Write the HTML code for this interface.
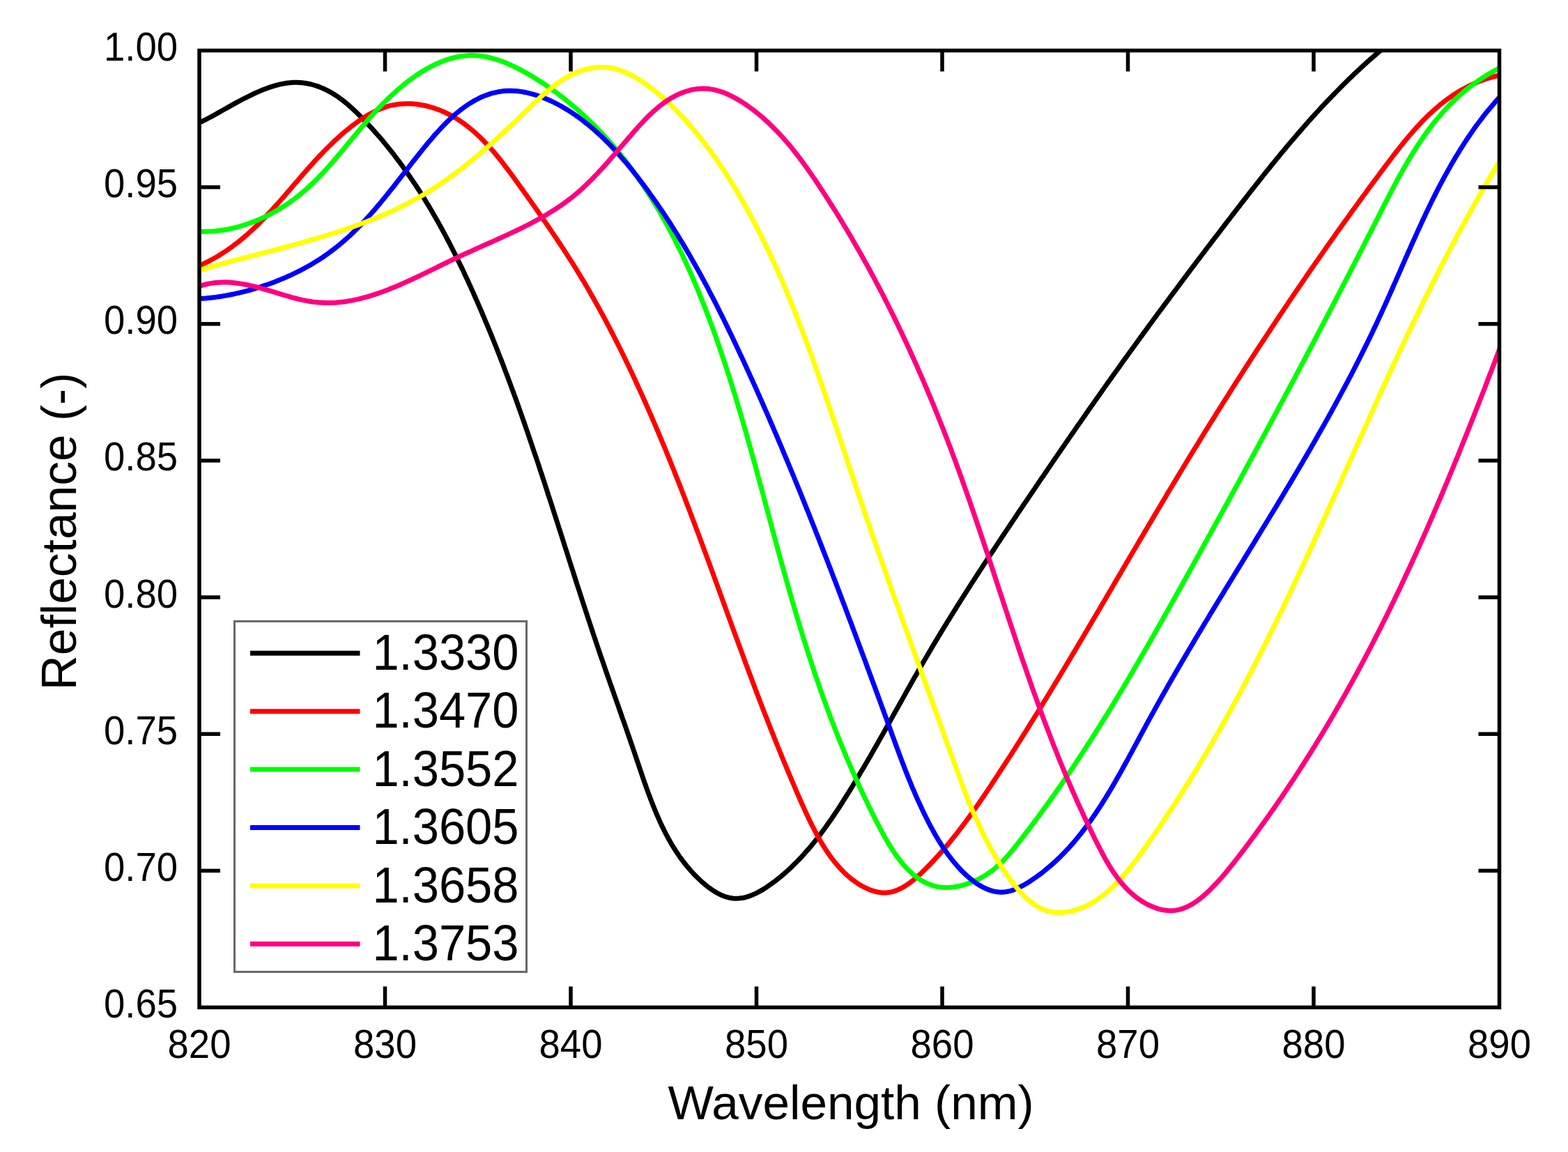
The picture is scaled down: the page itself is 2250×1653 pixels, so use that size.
<!DOCTYPE html>
<html><head><meta charset="utf-8"><title>Reflectance vs Wavelength</title>
<style>html,body{margin:0;padding:0;background:#fff;overflow:hidden}svg{display:block}</style>
</head><body>
<svg width="2250" height="1653" viewBox="0 0 2250 1653">
<rect x="0" y="0" width="2250" height="1653" fill="#fff"/>
<defs><clipPath id="pc"><rect x="286.0" y="72.5" width="1865.5" height="1373.0"/></clipPath></defs>
<g clip-path="url(#pc)" fill="none" stroke-width="7" stroke-linejoin="round" stroke-linecap="round">
<path stroke="#000000" d="M288.1,175.1 L292.1,173.1 L296.1,171.1 L300.2,169.0 L304.3,166.8 L308.5,164.5 L312.7,162.1 L316.9,159.7 L321.3,157.3 L325.6,154.9 L330.0,152.4 L334.5,149.9 L339.0,147.4 L343.5,145.0 L348.1,142.5 L352.8,140.1 L357.5,137.8 L362.2,135.5 L367.0,133.2 L371.9,131.1 L376.7,129.1 L381.6,127.2 L386.5,125.4 L391.4,123.8 L396.4,122.4 L401.3,121.1 L406.2,120.1 L411.2,119.2 L416.1,118.7 L421.0,118.3 L425.9,118.3 L430.8,118.5 L435.7,119.0 L440.5,119.7 L445.3,120.7 L450.0,122.0 L454.7,123.4 L459.3,125.1 L463.8,127.0 L468.3,129.1 L472.6,131.4 L476.9,133.8 L481.1,136.4 L485.2,139.2 L489.2,142.1 L493.1,145.1 L497.0,148.2 L500.7,151.4 L504.4,154.7 L508.1,158.1 L511.7,161.5 L515.2,165.0 L518.7,168.5 L522.2,172.1 L525.6,175.7 L529.0,179.3 L532.4,182.9 L535.7,186.6 L539.0,190.3 L542.3,194.0 L545.6,197.8 L548.8,201.6 L551.9,205.4 L555.1,209.2 L558.2,213.1 L561.3,217.0 L564.4,220.9 L567.4,224.8 L570.4,228.8 L573.4,232.7 L576.3,236.7 L579.2,240.8 L582.1,244.8 L585.0,248.9 L587.8,253.0 L590.6,257.1 L593.4,261.2 L596.2,265.4 L598.9,269.5 L601.6,273.7 L604.3,277.9 L607.0,282.1 L609.6,286.4 L612.2,290.7 L614.8,294.9 L617.4,299.2 L619.9,303.5 L622.4,307.9 L624.9,312.2 L627.4,316.6 L629.8,320.9 L632.3,325.3 L634.7,329.7 L637.1,334.1 L639.4,338.5 L641.8,343.0 L644.1,347.4 L646.4,351.9 L648.7,356.4 L651.0,360.8 L653.2,365.3 L655.5,369.8 L657.7,374.4 L659.9,378.9 L662.1,383.4 L664.3,387.9 L666.4,392.5 L668.5,397.0 L670.7,401.6 L672.8,406.2 L674.9,410.7 L676.9,415.3 L679.0,419.9 L681.0,424.5 L683.1,429.1 L685.1,433.7 L687.1,438.3 L689.1,442.9 L691.1,447.5 L693.0,452.1 L695.0,456.7 L696.9,461.4 L698.9,466.0 L700.8,470.6 L702.7,475.3 L704.6,479.9 L706.5,484.5 L708.4,489.2 L710.2,493.8 L712.1,498.5 L713.9,503.1 L715.7,507.8 L717.6,512.5 L719.4,517.1 L721.2,521.8 L723.0,526.5 L724.7,531.1 L726.5,535.8 L728.3,540.5 L730.0,545.2 L731.8,549.9 L733.5,554.6 L735.2,559.3 L737.0,563.9 L738.7,568.6 L740.4,573.3 L742.1,578.0 L743.7,582.7 L745.4,587.4 L747.1,592.2 L748.8,596.9 L750.4,601.6 L752.1,606.3 L753.7,611.0 L755.3,615.7 L757.0,620.4 L758.6,625.2 L760.2,629.9 L761.8,634.6 L763.4,639.3 L765.0,644.1 L766.6,648.8 L768.2,653.5 L769.8,658.2 L771.4,663.0 L773.0,667.7 L774.5,672.4 L776.1,677.2 L777.7,681.9 L779.2,686.7 L780.8,691.4 L782.3,696.1 L783.9,700.9 L785.4,705.6 L786.9,710.4 L788.5,715.1 L790.0,719.8 L791.6,724.6 L793.1,729.3 L794.6,734.1 L796.1,738.8 L797.7,743.6 L799.2,748.3 L800.7,753.0 L802.2,757.8 L803.8,762.5 L805.3,767.3 L806.8,772.0 L808.3,776.8 L809.8,781.5 L811.3,786.2 L812.9,791.0 L814.4,795.7 L815.9,800.5 L817.4,805.2 L818.9,809.9 L820.4,814.7 L822.0,819.4 L823.5,824.1 L825.0,828.9 L826.5,833.6 L828.0,838.4 L829.6,843.1 L831.1,847.8 L832.6,852.5 L834.2,857.3 L835.7,862.0 L837.2,866.7 L838.8,871.4 L840.3,876.2 L841.9,880.9 L843.4,885.6 L845.0,890.3 L846.5,895.0 L848.1,899.8 L849.7,904.5 L851.2,909.2 L852.8,913.9 L854.4,918.6 L856.0,923.3 L857.5,928.0 L859.1,932.7 L860.7,937.4 L862.3,942.1 L864.0,946.8 L865.6,951.4 L867.2,956.1 L868.8,960.8 L870.4,965.5 L872.1,970.2 L873.7,974.9 L875.3,979.6 L877.0,984.2 L878.6,988.9 L880.3,993.6 L881.9,998.3 L883.6,1003.0 L885.2,1007.7 L886.9,1012.4 L888.5,1017.1 L890.2,1021.8 L891.8,1026.5 L893.5,1031.3 L895.2,1036.0 L896.8,1040.7 L898.5,1045.4 L900.1,1050.2 L901.8,1054.9 L903.4,1059.7 L905.0,1064.4 L906.7,1069.2 L908.3,1074.0 L910.0,1078.8 L911.6,1083.6 L913.2,1088.4 L914.8,1093.2 L916.5,1098.0 L918.1,1102.9 L919.7,1107.7 L921.4,1112.5 L923.0,1117.3 L924.7,1122.1 L926.4,1127.0 L928.1,1131.8 L929.8,1136.6 L931.6,1141.3 L933.4,1146.1 L935.2,1150.8 L937.1,1155.6 L939.0,1160.3 L940.9,1164.9 L942.9,1169.6 L944.9,1174.2 L946.9,1178.8 L949.0,1183.4 L951.2,1187.9 L953.4,1192.4 L955.7,1196.8 L958.0,1201.2 L960.4,1205.6 L962.9,1209.9 L965.4,1214.2 L968.1,1218.4 L970.7,1222.5 L973.5,1226.6 L976.3,1230.7 L979.3,1234.7 L982.3,1238.6 L985.4,1242.5 L988.6,1246.3 L991.8,1250.0 L995.2,1253.7 L998.7,1257.3 L1002.3,1260.8 L1006.0,1264.3 L1009.8,1267.6 L1013.6,1270.8 L1017.6,1273.9 L1021.6,1276.7 L1025.7,1279.4 L1029.9,1281.8 L1034.1,1283.9 L1038.4,1285.7 L1042.7,1287.2 L1047.1,1288.3 L1051.5,1289.0 L1055.9,1289.3 L1060.4,1289.1 L1064.8,1288.6 L1069.2,1287.7 L1073.7,1286.4 L1078.1,1284.8 L1082.5,1282.9 L1086.9,1280.8 L1091.3,1278.4 L1095.6,1275.9 L1099.9,1273.1 L1104.1,1270.2 L1108.3,1267.2 L1112.4,1264.2 L1116.4,1261.0 L1120.4,1257.8 L1124.3,1254.5 L1128.1,1251.2 L1131.9,1247.7 L1135.6,1244.3 L1139.2,1240.7 L1142.8,1237.1 L1146.4,1233.5 L1149.9,1229.8 L1153.3,1226.0 L1156.7,1222.2 L1160.1,1218.4 L1163.4,1214.5 L1166.6,1210.6 L1169.8,1206.6 L1173.0,1202.6 L1176.1,1198.6 L1179.1,1194.5 L1182.2,1190.4 L1185.2,1186.3 L1188.1,1182.1 L1191.1,1177.9 L1194.0,1173.7 L1196.8,1169.5 L1199.7,1165.3 L1202.5,1161.1 L1205.2,1156.8 L1208.0,1152.5 L1210.7,1148.2 L1213.4,1144.0 L1216.1,1139.7 L1218.8,1135.4 L1221.4,1131.1 L1224.0,1126.8 L1226.6,1122.5 L1229.2,1118.2 L1231.8,1113.9 L1234.3,1109.6 L1236.9,1105.3 L1239.4,1101.1 L1241.9,1096.8 L1244.4,1092.5 L1246.9,1088.2 L1249.4,1083.9 L1251.9,1079.6 L1254.3,1075.3 L1256.8,1071.0 L1259.2,1066.7 L1261.6,1062.4 L1264.1,1058.1 L1266.5,1053.9 L1268.9,1049.6 L1271.3,1045.3 L1273.7,1041.0 L1276.1,1036.7 L1278.5,1032.4 L1280.9,1028.1 L1283.3,1023.8 L1285.7,1019.5 L1288.1,1015.3 L1290.5,1011.0 L1292.9,1006.7 L1295.3,1002.4 L1297.7,998.1 L1300.1,993.8 L1302.5,989.6 L1304.9,985.3 L1307.3,981.0 L1309.7,976.7 L1312.1,972.4 L1314.6,968.2 L1317.0,963.9 L1319.5,959.6 L1321.9,955.3 L1324.4,951.0 L1326.9,946.8 L1329.4,942.5 L1331.9,938.2 L1334.4,934.0 L1336.9,929.7 L1339.4,925.4 L1342.0,921.2 L1344.6,916.9 L1347.1,912.6 L1349.7,908.4 L1352.3,904.1 L1354.9,899.9 L1357.5,895.6 L1360.1,891.3 L1362.8,887.1 L1365.4,882.8 L1368.0,878.6 L1370.7,874.3 L1373.3,870.1 L1376.0,865.8 L1378.7,861.6 L1381.4,857.4 L1384.1,853.1 L1386.8,848.9 L1389.5,844.7 L1392.2,840.4 L1394.9,836.2 L1397.6,832.0 L1400.4,827.7 L1403.1,823.5 L1405.8,819.3 L1408.6,815.1 L1411.3,810.8 L1414.1,806.6 L1416.9,802.4 L1419.6,798.2 L1422.4,794.0 L1425.2,789.8 L1428.0,785.6 L1430.7,781.4 L1433.5,777.2 L1436.3,773.0 L1439.1,768.8 L1441.9,764.6 L1444.7,760.4 L1447.5,756.2 L1450.3,752.0 L1453.1,747.9 L1455.9,743.7 L1458.7,739.5 L1461.5,735.3 L1464.3,731.2 L1467.1,727.0 L1469.9,722.8 L1472.8,718.7 L1475.6,714.5 L1478.4,710.4 L1481.2,706.2 L1484.0,702.1 L1486.8,697.9 L1489.6,693.8 L1492.4,689.6 L1495.2,685.5 L1498.1,681.4 L1500.9,677.2 L1503.7,673.1 L1506.5,669.0 L1509.3,664.9 L1512.1,660.7 L1514.9,656.6 L1517.8,652.5 L1520.6,648.4 L1523.4,644.3 L1526.2,640.2 L1529.1,636.1 L1531.9,632.0 L1534.7,627.9 L1537.5,623.8 L1540.4,619.7 L1543.2,615.6 L1546.0,611.5 L1548.9,607.4 L1551.7,603.4 L1554.6,599.3 L1557.4,595.2 L1560.3,591.1 L1563.1,587.0 L1565.9,583.0 L1568.8,578.9 L1571.7,574.8 L1574.5,570.8 L1577.4,566.7 L1580.2,562.7 L1583.1,558.6 L1586.0,554.5 L1588.8,550.5 L1591.7,546.4 L1594.6,542.4 L1597.5,538.3 L1600.4,534.3 L1603.3,530.3 L1606.2,526.2 L1609.0,522.2 L1611.9,518.1 L1614.8,514.1 L1617.8,510.1 L1620.7,506.0 L1623.6,502.0 L1626.5,498.0 L1629.4,494.0 L1632.3,489.9 L1635.3,485.9 L1638.2,481.9 L1641.1,477.9 L1644.1,473.9 L1647.0,469.9 L1649.9,465.8 L1652.9,461.8 L1655.8,457.8 L1658.8,453.8 L1661.7,449.8 L1664.7,445.8 L1667.7,441.8 L1670.6,437.8 L1673.6,433.8 L1676.6,429.8 L1679.5,425.8 L1682.5,421.8 L1685.5,417.8 L1688.5,413.8 L1691.5,409.9 L1694.4,405.9 L1697.4,401.9 L1700.4,397.9 L1703.4,393.9 L1706.4,389.9 L1709.4,385.9 L1712.4,382.0 L1715.4,378.0 L1718.4,374.0 L1721.5,370.0 L1724.5,366.0 L1727.5,362.1 L1730.5,358.1 L1733.5,354.1 L1736.6,350.2 L1739.6,346.2 L1742.6,342.2 L1745.6,338.3 L1748.7,334.3 L1751.7,330.3 L1754.8,326.4 L1757.8,322.4 L1760.8,318.4 L1763.9,314.5 L1766.9,310.5 L1770.0,306.5 L1773.0,302.6 L1776.1,298.6 L1779.2,294.7 L1782.2,290.7 L1785.3,286.8 L1788.4,282.8 L1791.4,278.9 L1794.5,274.9 L1797.6,271.0 L1800.7,267.1 L1803.8,263.1 L1806.9,259.2 L1810.0,255.3 L1813.1,251.4 L1816.2,247.5 L1819.4,243.6 L1822.5,239.7 L1825.7,235.8 L1828.8,231.9 L1832.0,228.1 L1835.2,224.2 L1838.3,220.3 L1841.5,216.5 L1844.7,212.7 L1847.9,208.8 L1851.1,205.0 L1854.4,201.2 L1857.6,197.4 L1860.9,193.6 L1864.1,189.8 L1867.4,186.1 L1870.7,182.3 L1874.0,178.6 L1877.3,174.8 L1880.6,171.1 L1883.9,167.4 L1887.3,163.7 L1890.7,160.0 L1894.0,156.4 L1897.4,152.7 L1900.8,149.1 L1904.2,145.5 L1907.7,141.8 L1911.1,138.3 L1914.6,134.7 L1918.1,131.1 L1921.6,127.6 L1925.1,124.0 L1928.6,120.5 L1932.2,117.0 L1935.7,113.5 L1939.3,110.1 L1942.9,106.6 L1946.5,103.2 L1950.2,99.8 L1953.8,96.4 L1957.5,93.1 L1961.2,89.7 L1964.9,86.4 L1968.7,83.1 L1972.4,79.8 L1976.2,76.5 L1980.0,73.3 L1983.8,70.0 L1987.7,66.8 L1991.5,63.7 L1995.4,60.5"/>
<path stroke="#ff0000" d="M285.9,381.2 L290.7,379.1 L295.3,376.9 L299.9,374.6 L304.4,372.2 L308.8,369.7 L313.2,367.2 L317.4,364.6 L321.6,361.9 L325.8,359.1 L329.9,356.2 L333.9,353.3 L337.8,350.3 L341.8,347.3 L345.6,344.2 L349.4,341.0 L353.2,337.8 L356.9,334.5 L360.5,331.2 L364.2,327.8 L367.7,324.4 L371.3,320.9 L374.8,317.4 L378.3,313.9 L381.7,310.3 L385.1,306.7 L388.5,303.1 L391.9,299.4 L395.2,295.7 L398.6,292.0 L401.9,288.3 L405.2,284.5 L408.5,280.8 L411.7,277.0 L415.0,273.2 L418.3,269.4 L421.5,265.6 L424.8,261.8 L428.1,258.0 L431.3,254.2 L434.6,250.4 L437.9,246.7 L441.2,242.9 L444.5,239.2 L447.9,235.4 L451.2,231.7 L454.6,228.0 L458.0,224.3 L461.5,220.7 L464.9,217.1 L468.5,213.5 L472.0,209.9 L475.6,206.4 L479.3,202.9 L483.0,199.5 L486.7,196.1 L490.5,192.7 L494.4,189.4 L498.3,186.2 L502.3,183.0 L506.3,179.8 L510.5,176.7 L514.6,173.7 L518.9,170.8 L523.2,168.0 L527.6,165.3 L532.0,162.8 L536.5,160.5 L541.0,158.3 L545.6,156.3 L550.2,154.6 L554.8,153.0 L559.5,151.7 L564.2,150.7 L569.0,149.9 L573.7,149.3 L578.5,148.9 L583.3,148.7 L588.1,148.8 L592.9,149.1 L597.7,149.5 L602.5,150.2 L607.2,151.0 L611.9,152.0 L616.7,153.3 L621.3,154.6 L626.0,156.2 L630.6,157.9 L635.1,159.8 L639.6,161.8 L644.0,164.0 L648.4,166.3 L652.7,168.8 L656.9,171.3 L661.0,174.0 L665.1,176.9 L669.1,179.8 L673.0,182.9 L676.9,186.1 L680.6,189.3 L684.4,192.7 L688.0,196.1 L691.6,199.7 L695.2,203.3 L698.7,207.0 L702.1,210.7 L705.5,214.5 L708.9,218.4 L712.2,222.3 L715.4,226.3 L718.7,230.3 L721.8,234.4 L725.0,238.5 L728.1,242.6 L731.2,246.7 L734.3,250.8 L737.3,255.0 L740.3,259.2 L743.3,263.3 L746.3,267.5 L749.3,271.6 L752.2,275.8 L755.2,279.9 L758.1,284.0 L761.0,288.1 L763.9,292.2 L766.8,296.3 L769.6,300.3 L772.5,304.4 L775.3,308.5 L778.1,312.5 L780.9,316.6 L783.7,320.6 L786.5,324.7 L789.3,328.7 L792.0,332.8 L794.8,336.9 L797.5,340.9 L800.2,345.0 L802.9,349.0 L805.6,353.1 L808.3,357.2 L811.0,361.3 L813.6,365.4 L816.2,369.5 L818.9,373.6 L821.5,377.7 L824.1,381.9 L826.7,386.0 L829.2,390.2 L831.8,394.4 L834.3,398.6 L836.9,402.8 L839.4,407.1 L841.9,411.3 L844.4,415.6 L846.9,419.9 L849.3,424.2 L851.8,428.5 L854.2,432.9 L856.7,437.2 L859.1,441.6 L861.5,446.0 L863.9,450.4 L866.3,454.8 L868.7,459.2 L871.0,463.7 L873.4,468.1 L875.7,472.6 L878.0,477.1 L880.3,481.6 L882.6,486.1 L884.9,490.6 L887.2,495.1 L889.5,499.7 L891.7,504.2 L894.0,508.8 L896.2,513.3 L898.4,517.9 L900.6,522.5 L902.8,527.1 L905.0,531.7 L907.2,536.3 L909.3,540.9 L911.5,545.5 L913.6,550.2 L915.7,554.8 L917.8,559.4 L920.0,564.1 L922.0,568.7 L924.1,573.3 L926.2,578.0 L928.3,582.7 L930.3,587.3 L932.3,592.0 L934.4,596.6 L936.4,601.3 L938.4,606.0 L940.4,610.6 L942.4,615.3 L944.4,619.9 L946.3,624.6 L948.3,629.3 L950.2,633.9 L952.2,638.6 L954.1,643.3 L956.0,647.9 L957.9,652.6 L959.8,657.2 L961.7,661.9 L963.5,666.5 L965.4,671.1 L967.3,675.8 L969.1,680.4 L970.9,685.1 L972.8,689.7 L974.6,694.3 L976.4,698.9 L978.2,703.6 L980.0,708.2 L981.8,712.8 L983.6,717.4 L985.3,722.0 L987.1,726.6 L988.9,731.3 L990.6,735.9 L992.4,740.5 L994.1,745.1 L995.9,749.7 L997.6,754.3 L999.3,758.9 L1001.1,763.5 L1002.8,768.1 L1004.5,772.7 L1006.2,777.3 L1007.9,781.9 L1009.6,786.5 L1011.3,791.1 L1013.0,795.7 L1014.7,800.3 L1016.4,804.9 L1018.1,809.5 L1019.8,814.1 L1021.4,818.7 L1023.1,823.3 L1024.8,827.9 L1026.5,832.5 L1028.2,837.1 L1029.8,841.7 L1031.5,846.3 L1033.2,850.9 L1034.9,855.5 L1036.5,860.1 L1038.2,864.7 L1039.9,869.3 L1041.5,873.9 L1043.2,878.5 L1044.9,883.1 L1046.6,887.8 L1048.3,892.4 L1049.9,897.0 L1051.6,901.6 L1053.3,906.2 L1055.0,910.8 L1056.7,915.4 L1058.4,920.1 L1060.1,924.7 L1061.8,929.3 L1063.5,933.9 L1065.2,938.6 L1066.9,943.2 L1068.6,947.8 L1070.3,952.5 L1072.1,957.1 L1073.8,961.8 L1075.5,966.4 L1077.3,971.1 L1079.0,975.7 L1080.8,980.4 L1082.5,985.0 L1084.3,989.7 L1086.0,994.4 L1087.8,999.0 L1089.6,1003.7 L1091.4,1008.4 L1093.2,1013.1 L1095.0,1017.7 L1096.8,1022.4 L1098.6,1027.1 L1100.5,1031.8 L1102.3,1036.5 L1104.2,1041.2 L1106.0,1045.9 L1107.9,1050.6 L1109.8,1055.4 L1111.6,1060.1 L1113.5,1064.8 L1115.4,1069.5 L1117.4,1074.3 L1119.3,1079.0 L1121.2,1083.8 L1123.2,1088.5 L1125.1,1093.3 L1127.1,1098.0 L1129.1,1102.8 L1131.1,1107.6 L1133.1,1112.4 L1135.1,1117.1 L1137.1,1121.9 L1139.2,1126.7 L1141.2,1131.5 L1143.3,1136.3 L1145.4,1141.2 L1147.5,1146.0 L1149.6,1150.8 L1151.7,1155.6 L1153.9,1160.4 L1156.1,1165.2 L1158.3,1170.0 L1160.5,1174.7 L1162.8,1179.4 L1165.1,1184.1 L1167.5,1188.7 L1169.9,1193.3 L1172.3,1197.9 L1174.8,1202.3 L1177.3,1206.8 L1179.9,1211.1 L1182.5,1215.4 L1185.2,1219.6 L1188.0,1223.7 L1190.8,1227.8 L1193.7,1231.7 L1196.6,1235.5 L1199.7,1239.3 L1202.8,1242.9 L1205.9,1246.4 L1209.2,1249.8 L1212.5,1253.1 L1216.0,1256.3 L1219.5,1259.3 L1223.1,1262.2 L1226.8,1264.9 L1230.5,1267.5 L1234.4,1269.9 L1238.4,1272.2 L1242.5,1274.2 L1246.6,1276.1 L1250.9,1277.7 L1255.1,1279.0 L1259.5,1280.0 L1263.8,1280.7 L1268.2,1281.0 L1272.6,1280.9 L1277.0,1280.3 L1281.4,1279.3 L1285.7,1277.9 L1290.1,1276.0 L1294.4,1273.9 L1298.7,1271.4 L1302.9,1268.6 L1307.2,1265.5 L1311.3,1262.2 L1315.5,1258.7 L1319.5,1255.1 L1323.6,1251.3 L1327.5,1247.4 L1331.4,1243.5 L1335.3,1239.5 L1339.0,1235.5 L1342.7,1231.5 L1346.3,1227.6 L1349.8,1223.6 L1353.3,1219.6 L1356.7,1215.7 L1360.1,1211.7 L1363.4,1207.7 L1366.6,1203.8 L1369.8,1199.8 L1372.9,1195.9 L1376.0,1191.9 L1379.0,1187.9 L1382.0,1184.0 L1385.0,1180.0 L1387.9,1176.1 L1390.8,1172.1 L1393.7,1168.1 L1396.5,1164.1 L1399.3,1160.2 L1402.1,1156.2 L1404.9,1152.2 L1407.6,1148.2 L1410.3,1144.2 L1413.1,1140.2 L1415.8,1136.1 L1418.5,1132.1 L1421.2,1128.1 L1423.8,1124.0 L1426.5,1120.0 L1429.2,1115.9 L1431.9,1111.8 L1434.6,1107.7 L1437.2,1103.6 L1439.9,1099.5 L1442.6,1095.4 L1445.2,1091.3 L1447.9,1087.2 L1450.6,1083.1 L1453.2,1078.9 L1455.9,1074.8 L1458.5,1070.6 L1461.1,1066.5 L1463.8,1062.3 L1466.4,1058.1 L1469.0,1053.9 L1471.7,1049.8 L1474.3,1045.6 L1476.9,1041.4 L1479.5,1037.2 L1482.2,1032.9 L1484.8,1028.7 L1487.4,1024.5 L1490.0,1020.3 L1492.6,1016.0 L1495.2,1011.8 L1497.8,1007.5 L1500.4,1003.3 L1503.0,999.0 L1505.6,994.8 L1508.2,990.5 L1510.8,986.2 L1513.4,981.9 L1516.0,977.7 L1518.6,973.4 L1521.2,969.1 L1523.7,964.8 L1526.3,960.5 L1528.9,956.2 L1531.5,951.9 L1534.1,947.6 L1536.6,943.3 L1539.2,938.9 L1541.8,934.6 L1544.4,930.3 L1546.9,926.0 L1549.5,921.6 L1552.1,917.3 L1554.6,913.0 L1557.2,908.6 L1559.8,904.3 L1562.3,899.9 L1564.9,895.6 L1567.4,891.3 L1570.0,886.9 L1572.6,882.6 L1575.1,878.2 L1577.7,873.9 L1580.2,869.5 L1582.8,865.1 L1585.4,860.8 L1587.9,856.4 L1590.5,852.1 L1593.0,847.7 L1595.6,843.4 L1598.1,839.0 L1600.7,834.6 L1603.2,830.3 L1605.8,825.9 L1608.4,821.6 L1610.9,817.2 L1613.5,812.8 L1616.0,808.5 L1618.6,804.1 L1621.1,799.8 L1623.7,795.4 L1626.3,791.0 L1628.8,786.7 L1631.4,782.3 L1633.9,778.0 L1636.5,773.6 L1639.1,769.3 L1641.6,764.9 L1644.2,760.6 L1646.8,756.2 L1649.3,751.9 L1651.9,747.6 L1654.5,743.2 L1657.0,738.9 L1659.6,734.6 L1662.2,730.2 L1664.7,725.9 L1667.3,721.6 L1669.9,717.3 L1672.5,713.0 L1675.0,708.6 L1677.6,704.3 L1680.2,700.0 L1682.8,695.7 L1685.4,691.4 L1688.0,687.1 L1690.6,682.8 L1693.1,678.6 L1695.7,674.3 L1698.3,670.0 L1700.9,665.7 L1703.5,661.4 L1706.1,657.2 L1708.7,652.9 L1711.3,648.6 L1713.9,644.4 L1716.6,640.1 L1719.2,635.9 L1721.8,631.6 L1724.4,627.4 L1727.0,623.1 L1729.6,618.9 L1732.3,614.7 L1734.9,610.4 L1737.5,606.2 L1740.2,602.0 L1742.8,597.8 L1745.4,593.5 L1748.1,589.3 L1750.7,585.1 L1753.4,580.9 L1756.0,576.7 L1758.7,572.5 L1761.3,568.3 L1764.0,564.1 L1766.6,559.9 L1769.3,555.7 L1772.0,551.5 L1774.6,547.3 L1777.3,543.2 L1780.0,539.0 L1782.7,534.8 L1785.3,530.6 L1788.0,526.5 L1790.7,522.3 L1793.4,518.1 L1796.1,514.0 L1798.8,509.8 L1801.5,505.6 L1804.2,501.5 L1806.9,497.3 L1809.7,493.2 L1812.4,489.0 L1815.1,484.9 L1817.8,480.8 L1820.6,476.6 L1823.3,472.5 L1826.0,468.3 L1828.8,464.2 L1831.5,460.1 L1834.3,456.0 L1837.0,451.8 L1839.8,447.7 L1842.5,443.6 L1845.3,439.5 L1848.1,435.4 L1850.8,431.2 L1853.6,427.1 L1856.4,423.0 L1859.2,418.9 L1862.0,414.8 L1864.8,410.7 L1867.6,406.6 L1870.4,402.5 L1873.2,398.4 L1876.0,394.3 L1878.8,390.2 L1881.7,386.1 L1884.5,382.0 L1887.3,377.9 L1890.2,373.9 L1893.0,369.8 L1895.9,365.7 L1898.7,361.6 L1901.6,357.5 L1904.4,353.4 L1907.3,349.4 L1910.2,345.3 L1913.1,341.2 L1915.9,337.2 L1918.8,333.1 L1921.7,329.0 L1924.6,324.9 L1927.5,320.9 L1930.4,316.8 L1933.4,312.8 L1936.3,308.7 L1939.2,304.6 L1942.1,300.6 L1945.1,296.5 L1948.0,292.5 L1951.0,288.4 L1953.9,284.4 L1956.9,280.3 L1959.9,276.3 L1962.8,272.2 L1965.8,268.2 L1968.8,264.1 L1971.8,260.1 L1974.8,256.0 L1977.8,252.0 L1980.8,247.9 L1983.8,243.9 L1986.8,239.9 L1989.9,235.8 L1992.9,231.8 L1996.0,227.8 L1999.0,223.7 L2002.1,219.8 L2005.2,215.8 L2008.3,211.8 L2011.5,207.9 L2014.6,204.0 L2017.8,200.1 L2021.0,196.3 L2024.3,192.4 L2027.5,188.7 L2030.9,184.9 L2034.2,181.3 L2037.6,177.6 L2041.0,174.0 L2044.5,170.5 L2048.0,167.0 L2051.5,163.6 L2055.1,160.3 L2058.8,157.0 L2062.5,153.8 L2066.2,150.6 L2070.1,147.5 L2073.9,144.5 L2077.8,141.6 L2081.8,138.8 L2085.9,136.0 L2090.0,133.4 L2094.2,130.8 L2098.5,128.3 L2102.8,126.0 L2107.2,123.7 L2111.7,121.5 L2116.2,119.5 L2120.8,117.5 L2125.6,115.7 L2130.4,113.9 L2135.2,112.3 L2140.2,110.9 L2145.3,109.5 L2150.4,108.3 L2155.7,107.2 L2161.0,106.2"/>
<path stroke="#00ff00" d="M286.2,332.2 L291.1,332.3 L296.1,332.3 L301.0,332.1 L305.9,331.8 L310.9,331.3 L315.8,330.7 L320.7,330.0 L325.6,329.2 L330.5,328.2 L335.4,327.1 L340.2,325.9 L345.1,324.5 L349.9,323.1 L354.6,321.5 L359.4,319.8 L364.1,318.1 L368.7,316.2 L373.4,314.2 L377.9,312.1 L382.5,310.0 L387.0,307.7 L391.4,305.3 L395.8,302.9 L400.2,300.3 L404.4,297.7 L408.7,295.0 L412.8,292.3 L416.9,289.4 L421.0,286.5 L424.9,283.5 L428.8,280.4 L432.6,277.3 L436.4,274.1 L440.1,270.9 L443.7,267.6 L447.3,264.3 L450.8,260.9 L454.3,257.4 L457.7,253.9 L461.1,250.4 L464.5,246.8 L467.8,243.2 L471.1,239.5 L474.4,235.8 L477.6,232.1 L480.8,228.4 L484.0,224.6 L487.2,220.8 L490.4,217.0 L493.6,213.2 L496.7,209.4 L499.9,205.5 L503.1,201.7 L506.3,197.8 L509.5,193.9 L512.7,190.1 L515.9,186.2 L519.2,182.3 L522.4,178.5 L525.7,174.7 L529.1,170.8 L532.5,167.0 L535.9,163.2 L539.3,159.4 L542.9,155.7 L546.4,152.0 L550.0,148.3 L553.7,144.6 L557.4,141.0 L561.2,137.4 L565.1,133.8 L569.0,130.4 L572.9,126.9 L576.9,123.6 L580.9,120.3 L585.0,117.1 L589.1,114.0 L593.3,111.0 L597.5,108.0 L601.8,105.2 L606.0,102.5 L610.4,99.9 L614.7,97.5 L619.1,95.1 L623.5,92.9 L627.9,90.9 L632.4,89.0 L636.9,87.2 L641.4,85.6 L645.9,84.2 L650.5,83.0 L655.0,81.9 L659.6,81.0 L664.2,80.4 L668.8,79.9 L673.4,79.6 L678.0,79.5 L682.6,79.7 L687.3,80.0 L691.9,80.6 L696.5,81.4 L701.1,82.3 L705.8,83.5 L710.4,84.8 L715.0,86.2 L719.6,87.8 L724.2,89.6 L728.8,91.5 L733.3,93.5 L737.9,95.6 L742.4,97.8 L746.9,100.2 L751.4,102.6 L755.9,105.1 L760.3,107.6 L764.7,110.2 L769.1,112.9 L773.5,115.7 L777.8,118.5 L782.1,121.4 L786.3,124.3 L790.5,127.3 L794.7,130.3 L798.8,133.3 L802.9,136.4 L807.0,139.5 L811.0,142.7 L815.0,145.9 L818.9,149.1 L822.7,152.3 L826.6,155.6 L830.4,158.9 L834.1,162.3 L837.8,165.7 L841.5,169.1 L845.1,172.5 L848.7,176.0 L852.3,179.5 L855.8,183.1 L859.3,186.6 L862.7,190.2 L866.1,193.9 L869.5,197.5 L872.8,201.2 L876.1,204.9 L879.4,208.6 L882.6,212.4 L885.8,216.2 L888.9,220.0 L892.0,223.9 L895.1,227.7 L898.1,231.6 L901.2,235.5 L904.1,239.5 L907.1,243.5 L910.0,247.4 L912.9,251.5 L915.7,255.5 L918.5,259.6 L921.3,263.6 L924.1,267.7 L926.8,271.9 L929.5,276.0 L932.1,280.2 L934.8,284.4 L937.4,288.6 L940.0,292.8 L942.5,297.1 L945.0,301.3 L947.5,305.6 L950.0,309.9 L952.4,314.2 L954.8,318.6 L957.2,322.9 L959.6,327.3 L961.9,331.7 L964.2,336.1 L966.5,340.5 L968.8,344.9 L971.0,349.4 L973.2,353.9 L975.4,358.3 L977.6,362.8 L979.7,367.3 L981.9,371.8 L984.0,376.4 L986.0,380.9 L988.1,385.5 L990.1,390.0 L992.2,394.6 L994.2,399.2 L996.1,403.8 L998.1,408.4 L1000.0,413.0 L1002.0,417.7 L1003.9,422.3 L1005.7,426.9 L1007.6,431.6 L1009.5,436.3 L1011.3,440.9 L1013.1,445.6 L1014.9,450.3 L1016.7,455.0 L1018.5,459.7 L1020.2,464.4 L1022.0,469.1 L1023.7,473.8 L1025.4,478.6 L1027.1,483.3 L1028.8,488.0 L1030.4,492.8 L1032.1,497.5 L1033.7,502.3 L1035.3,507.1 L1036.9,511.8 L1038.5,516.6 L1040.1,521.4 L1041.7,526.2 L1043.3,531.0 L1044.8,535.8 L1046.4,540.6 L1047.9,545.4 L1049.4,550.2 L1050.9,555.0 L1052.4,559.8 L1053.9,564.6 L1055.4,569.5 L1056.8,574.3 L1058.3,579.1 L1059.7,583.9 L1061.2,588.8 L1062.6,593.6 L1064.0,598.4 L1065.4,603.3 L1066.8,608.1 L1068.2,613.0 L1069.6,617.8 L1071.0,622.6 L1072.4,627.5 L1073.7,632.3 L1075.1,637.2 L1076.5,642.0 L1077.8,646.9 L1079.2,651.7 L1080.5,656.6 L1081.8,661.4 L1083.2,666.3 L1084.5,671.1 L1085.8,676.0 L1087.1,680.8 L1088.4,685.6 L1089.8,690.5 L1091.1,695.3 L1092.4,700.2 L1093.7,705.0 L1095.0,709.8 L1096.3,714.7 L1097.6,719.5 L1098.9,724.3 L1100.2,729.1 L1101.5,734.0 L1102.8,738.8 L1104.0,743.6 L1105.3,748.4 L1106.6,753.2 L1107.9,758.0 L1109.2,762.8 L1110.5,767.6 L1111.8,772.4 L1113.1,777.2 L1114.4,781.9 L1115.7,786.7 L1117.0,791.5 L1118.3,796.3 L1119.6,801.0 L1120.9,805.8 L1122.3,810.5 L1123.6,815.3 L1124.9,820.0 L1126.2,824.8 L1127.5,829.5 L1128.9,834.3 L1130.2,839.0 L1131.6,843.7 L1132.9,848.5 L1134.3,853.2 L1135.6,857.9 L1137.0,862.7 L1138.4,867.4 L1139.8,872.1 L1141.1,876.8 L1142.5,881.5 L1143.9,886.2 L1145.4,890.9 L1146.8,895.6 L1148.2,900.3 L1149.6,905.0 L1151.1,909.7 L1152.5,914.4 L1154.0,919.1 L1155.5,923.8 L1157.0,928.5 L1158.4,933.2 L1159.9,937.9 L1161.5,942.6 L1163.0,947.3 L1164.5,951.9 L1166.1,956.6 L1167.6,961.3 L1169.2,966.0 L1170.8,970.7 L1172.4,975.3 L1174.0,980.0 L1175.6,984.7 L1177.2,989.4 L1178.9,994.0 L1180.5,998.7 L1182.2,1003.4 L1183.9,1008.1 L1185.6,1012.7 L1187.3,1017.4 L1189.1,1022.1 L1190.8,1026.7 L1192.6,1031.4 L1194.4,1036.1 L1196.2,1040.7 L1198.0,1045.4 L1199.8,1050.1 L1201.7,1054.8 L1203.5,1059.4 L1205.4,1064.1 L1207.3,1068.8 L1209.2,1073.4 L1211.2,1078.1 L1213.1,1082.8 L1215.1,1087.5 L1217.1,1092.1 L1219.1,1096.8 L1221.1,1101.5 L1223.2,1106.2 L1225.3,1110.9 L1227.4,1115.5 L1229.5,1120.2 L1231.6,1124.9 L1233.8,1129.6 L1235.9,1134.3 L1238.1,1139.0 L1240.4,1143.7 L1242.6,1148.3 L1244.9,1153.0 L1247.2,1157.7 L1249.5,1162.4 L1251.8,1167.1 L1254.2,1171.8 L1256.5,1176.5 L1258.9,1181.2 L1261.4,1185.9 L1263.8,1190.6 L1266.4,1195.2 L1268.9,1199.8 L1271.5,1204.4 L1274.1,1208.9 L1276.8,1213.3 L1279.5,1217.6 L1282.3,1221.9 L1285.1,1226.1 L1288.0,1230.1 L1291.0,1234.0 L1294.0,1237.9 L1297.1,1241.5 L1300.3,1245.1 L1303.6,1248.4 L1306.9,1251.6 L1310.3,1254.7 L1313.8,1257.5 L1317.4,1260.2 L1321.1,1262.6 L1324.9,1264.9 L1328.8,1266.9 L1332.8,1268.6 L1336.9,1270.2 L1341.1,1271.4 L1345.4,1272.4 L1349.8,1273.1 L1354.4,1273.5 L1359.1,1273.5 L1363.9,1273.3 L1368.7,1272.8 L1373.6,1272.0 L1378.6,1270.9 L1383.5,1269.6 L1388.5,1268.0 L1393.4,1266.2 L1398.3,1264.2 L1403.1,1262.0 L1407.7,1259.6 L1412.3,1256.9 L1416.7,1254.2 L1421.0,1251.2 L1425.0,1248.2 L1429.0,1244.9 L1432.7,1241.6 L1436.4,1238.2 L1439.9,1234.6 L1443.3,1231.0 L1446.6,1227.3 L1449.8,1223.5 L1453.0,1219.7 L1456.1,1215.8 L1459.2,1211.9 L1462.3,1208.0 L1465.3,1204.1 L1468.4,1200.2 L1471.4,1196.2 L1474.5,1192.3 L1477.5,1188.3 L1480.5,1184.4 L1483.4,1180.4 L1486.4,1176.4 L1489.4,1172.4 L1492.3,1168.4 L1495.3,1164.4 L1498.2,1160.4 L1501.1,1156.4 L1504.0,1152.4 L1506.9,1148.3 L1509.8,1144.3 L1512.6,1140.2 L1515.5,1136.2 L1518.3,1132.1 L1521.2,1128.0 L1524.0,1123.9 L1526.8,1119.9 L1529.6,1115.8 L1532.4,1111.7 L1535.2,1107.5 L1538.0,1103.4 L1540.7,1099.3 L1543.5,1095.2 L1546.2,1091.0 L1549.0,1086.9 L1551.7,1082.7 L1554.4,1078.6 L1557.1,1074.4 L1559.8,1070.2 L1562.5,1066.1 L1565.2,1061.9 L1567.9,1057.7 L1570.6,1053.5 L1573.2,1049.3 L1575.9,1045.1 L1578.5,1040.9 L1581.1,1036.7 L1583.8,1032.4 L1586.4,1028.2 L1589.0,1024.0 L1591.6,1019.8 L1594.2,1015.5 L1596.8,1011.3 L1599.4,1007.0 L1602.0,1002.8 L1604.5,998.5 L1607.1,994.3 L1609.7,990.0 L1612.2,985.7 L1614.8,981.4 L1617.3,977.2 L1619.8,972.9 L1622.4,968.6 L1624.9,964.3 L1627.4,960.0 L1629.9,955.7 L1632.4,951.4 L1634.9,947.1 L1637.4,942.8 L1639.9,938.5 L1642.4,934.2 L1644.9,929.9 L1647.4,925.6 L1649.9,921.2 L1652.3,916.9 L1654.8,912.6 L1657.3,908.3 L1659.7,903.9 L1662.2,899.6 L1664.6,895.3 L1667.1,891.0 L1669.5,886.6 L1672.0,882.3 L1674.4,877.9 L1676.9,873.6 L1679.3,869.3 L1681.7,864.9 L1684.2,860.6 L1686.6,856.2 L1689.0,851.9 L1691.4,847.5 L1693.9,843.2 L1696.3,838.8 L1698.7,834.5 L1701.1,830.2 L1703.5,825.8 L1706.0,821.5 L1708.4,817.1 L1710.8,812.8 L1713.2,808.4 L1715.6,804.1 L1718.0,799.7 L1720.4,795.4 L1722.8,791.0 L1725.2,786.7 L1727.6,782.3 L1730.0,778.0 L1732.4,773.6 L1734.8,769.2 L1737.2,764.9 L1739.6,760.5 L1742.0,756.2 L1744.4,751.8 L1746.8,747.5 L1749.2,743.1 L1751.6,738.8 L1754.0,734.4 L1756.4,730.0 L1758.8,725.7 L1761.2,721.3 L1763.6,717.0 L1765.9,712.6 L1768.3,708.3 L1770.7,703.9 L1773.1,699.5 L1775.5,695.2 L1777.8,690.8 L1780.2,686.4 L1782.6,682.1 L1785.0,677.7 L1787.3,673.3 L1789.7,669.0 L1792.1,664.6 L1794.4,660.2 L1796.8,655.9 L1799.2,651.5 L1801.6,647.1 L1803.9,642.7 L1806.3,638.4 L1808.6,634.0 L1811.0,629.6 L1813.4,625.2 L1815.7,620.9 L1818.1,616.5 L1820.4,612.1 L1822.8,607.7 L1825.1,603.3 L1827.5,599.0 L1829.8,594.6 L1832.2,590.2 L1834.5,585.8 L1836.9,581.4 L1839.2,577.0 L1841.6,572.6 L1843.9,568.2 L1846.3,563.8 L1848.6,559.4 L1851.0,555.0 L1853.3,550.7 L1855.6,546.3 L1858.0,541.9 L1860.3,537.5 L1862.6,533.0 L1865.0,528.6 L1867.3,524.2 L1869.6,519.8 L1872.0,515.4 L1874.3,511.0 L1876.6,506.6 L1878.9,502.2 L1881.3,497.8 L1883.6,493.4 L1885.9,488.9 L1888.2,484.5 L1890.6,480.1 L1892.9,475.7 L1895.2,471.3 L1897.5,466.8 L1899.8,462.4 L1902.1,458.0 L1904.5,453.6 L1906.8,449.1 L1909.1,444.7 L1911.4,440.3 L1913.7,435.8 L1916.0,431.4 L1918.3,426.9 L1920.6,422.5 L1922.9,418.1 L1925.2,413.6 L1927.5,409.2 L1929.8,404.7 L1932.1,400.3 L1934.4,395.8 L1936.7,391.3 L1939.0,386.9 L1941.3,382.4 L1943.6,378.0 L1945.9,373.5 L1948.2,369.0 L1950.5,364.6 L1952.8,360.1 L1955.1,355.6 L1957.3,351.2 L1959.6,346.7 L1961.9,342.2 L1964.2,337.7 L1966.5,333.3 L1968.8,328.8 L1971.0,324.3 L1973.3,319.8 L1975.6,315.3 L1977.9,310.8 L1980.2,306.3 L1982.4,301.8 L1984.7,297.3 L1987.0,292.8 L1989.3,288.4 L1991.6,283.9 L1993.9,279.4 L1996.2,275.0 L1998.6,270.5 L2000.9,266.1 L2003.3,261.6 L2005.7,257.2 L2008.1,252.8 L2010.5,248.4 L2012.9,244.1 L2015.4,239.7 L2017.9,235.4 L2020.4,231.1 L2022.9,226.8 L2025.5,222.6 L2028.1,218.4 L2030.8,214.2 L2033.4,210.0 L2036.2,205.9 L2038.9,201.8 L2041.7,197.7 L2044.5,193.6 L2047.4,189.6 L2050.3,185.7 L2053.3,181.8 L2056.3,177.9 L2059.3,174.0 L2062.4,170.2 L2065.6,166.5 L2068.8,162.8 L2072.1,159.1 L2075.4,155.5 L2078.8,152.0 L2082.2,148.4 L2085.7,145.0 L2089.3,141.6 L2092.9,138.2 L2096.6,134.9 L2100.3,131.7 L2104.2,128.5 L2108.0,125.4 L2112.0,122.4 L2116.1,119.4 L2120.2,116.5 L2124.4,113.6 L2128.6,110.9 L2133.0,108.1 L2137.4,105.5 L2141.9,102.9 L2146.5,100.4 L2151.2,98.0 L2156.0,95.7 L2160.9,93.4"/>
<path stroke="#0000ff" d="M286.3,428.4 L290.8,428.2 L295.4,427.9 L300.1,427.4 L304.8,426.9 L309.5,426.4 L314.3,425.7 L319.1,425.0 L324.0,424.1 L328.9,423.2 L333.7,422.3 L338.7,421.2 L343.6,420.1 L348.5,418.9 L353.5,417.6 L358.4,416.3 L363.4,414.9 L368.3,413.4 L373.3,411.8 L378.2,410.2 L383.2,408.5 L388.1,406.8 L393.0,404.9 L397.8,403.0 L402.7,401.1 L407.5,399.1 L412.2,397.0 L417.0,394.9 L421.7,392.7 L426.3,390.4 L430.9,388.1 L435.5,385.7 L439.9,383.3 L444.4,380.8 L448.7,378.2 L453.0,375.6 L457.2,373.0 L461.4,370.3 L465.5,367.5 L469.5,364.7 L473.4,361.8 L477.3,358.9 L481.1,356.0 L484.9,353.0 L488.6,349.9 L492.2,346.8 L495.8,343.7 L499.4,340.5 L502.9,337.3 L506.3,334.0 L509.7,330.7 L513.1,327.3 L516.4,324.0 L519.7,320.5 L523.0,317.1 L526.2,313.6 L529.4,310.0 L532.6,306.5 L535.8,302.9 L538.9,299.2 L542.0,295.6 L545.1,291.9 L548.2,288.1 L551.3,284.4 L554.4,280.6 L557.5,276.8 L560.6,272.9 L563.6,269.1 L566.7,265.2 L569.8,261.2 L572.8,257.3 L575.9,253.3 L579.0,249.4 L582.2,245.4 L585.3,241.3 L588.4,237.3 L591.6,233.2 L594.8,229.2 L598.0,225.1 L601.3,221.0 L604.6,216.9 L607.9,212.7 L611.3,208.6 L614.6,204.5 L618.1,200.5 L621.5,196.4 L625.0,192.4 L628.6,188.5 L632.2,184.6 L635.8,180.7 L639.5,177.0 L643.2,173.3 L647.0,169.7 L650.8,166.2 L654.7,162.9 L658.6,159.6 L662.6,156.5 L666.6,153.5 L670.7,150.6 L674.9,147.9 L679.1,145.4 L683.4,143.0 L687.7,140.8 L692.1,138.8 L696.6,137.0 L701.1,135.4 L705.6,133.9 L710.2,132.8 L714.8,131.8 L719.4,131.1 L724.0,130.6 L728.7,130.3 L733.4,130.3 L738.1,130.5 L742.8,130.8 L747.5,131.4 L752.2,132.2 L756.9,133.1 L761.6,134.3 L766.2,135.6 L770.9,137.0 L775.5,138.6 L780.1,140.4 L784.7,142.2 L789.3,144.3 L793.8,146.4 L798.2,148.6 L802.7,151.0 L807.1,153.4 L811.4,156.0 L815.7,158.6 L819.9,161.3 L824.1,164.1 L828.3,167.0 L832.3,170.0 L836.4,173.0 L840.4,176.2 L844.4,179.3 L848.3,182.6 L852.2,185.9 L856.0,189.3 L859.8,192.8 L863.5,196.3 L867.2,199.8 L870.9,203.5 L874.5,207.1 L878.1,210.9 L881.6,214.6 L885.1,218.4 L888.6,222.3 L892.0,226.2 L895.4,230.1 L898.8,234.0 L902.1,238.0 L905.4,242.0 L908.6,246.1 L911.8,250.1 L915.0,254.2 L918.1,258.3 L921.2,262.4 L924.3,266.5 L927.4,270.6 L930.4,274.8 L933.3,278.9 L936.3,283.1 L939.2,287.2 L942.1,291.3 L945.0,295.5 L947.8,299.6 L950.6,303.8 L953.4,307.9 L956.1,312.1 L958.9,316.3 L961.6,320.4 L964.2,324.6 L966.9,328.8 L969.5,333.0 L972.1,337.1 L974.7,341.3 L977.2,345.5 L979.8,349.7 L982.3,353.9 L984.8,358.1 L987.2,362.3 L989.7,366.5 L992.1,370.7 L994.5,375.0 L996.9,379.2 L999.3,383.4 L1001.7,387.7 L1004.0,391.9 L1006.3,396.1 L1008.6,400.4 L1010.9,404.7 L1013.2,408.9 L1015.5,413.2 L1017.7,417.5 L1019.9,421.8 L1022.2,426.1 L1024.4,430.4 L1026.6,434.7 L1028.8,439.0 L1030.9,443.3 L1033.1,447.7 L1035.3,452.0 L1037.4,456.3 L1039.6,460.7 L1041.7,465.1 L1043.8,469.4 L1045.9,473.8 L1048.1,478.2 L1050.2,482.6 L1052.3,487.0 L1054.4,491.4 L1056.5,495.8 L1058.5,500.3 L1060.6,504.7 L1062.7,509.2 L1064.8,513.6 L1066.9,518.1 L1068.9,522.6 L1071.0,527.1 L1073.0,531.6 L1075.1,536.1 L1077.1,540.6 L1079.2,545.1 L1081.2,549.6 L1083.3,554.1 L1085.3,558.7 L1087.3,563.2 L1089.4,567.8 L1091.4,572.3 L1093.4,576.9 L1095.4,581.5 L1097.4,586.1 L1099.4,590.6 L1101.5,595.2 L1103.5,599.8 L1105.4,604.4 L1107.4,609.0 L1109.4,613.7 L1111.4,618.3 L1113.4,622.9 L1115.4,627.5 L1117.3,632.2 L1119.3,636.8 L1121.3,641.5 L1123.2,646.1 L1125.2,650.8 L1127.1,655.5 L1129.1,660.1 L1131.0,664.8 L1133.0,669.5 L1134.9,674.1 L1136.8,678.8 L1138.8,683.5 L1140.7,688.2 L1142.6,692.9 L1144.6,697.6 L1146.5,702.3 L1148.4,707.0 L1150.3,711.7 L1152.2,716.4 L1154.1,721.1 L1156.0,725.9 L1157.9,730.6 L1159.8,735.3 L1161.7,740.0 L1163.5,744.7 L1165.4,749.5 L1167.3,754.2 L1169.2,758.9 L1171.0,763.7 L1172.9,768.4 L1174.8,773.1 L1176.6,777.9 L1178.5,782.6 L1180.3,787.4 L1182.2,792.1 L1184.0,796.8 L1185.9,801.6 L1187.7,806.3 L1189.5,811.1 L1191.4,815.8 L1193.2,820.5 L1195.0,825.3 L1196.8,830.0 L1198.7,834.8 L1200.5,839.5 L1202.3,844.2 L1204.1,849.0 L1205.9,853.7 L1207.7,858.5 L1209.5,863.2 L1211.3,867.9 L1213.1,872.7 L1214.9,877.4 L1216.6,882.1 L1218.4,886.9 L1220.2,891.6 L1222.0,896.3 L1223.7,901.0 L1225.5,905.8 L1227.3,910.5 L1229.0,915.2 L1230.8,919.9 L1232.5,924.6 L1234.3,929.3 L1236.0,934.0 L1237.8,938.7 L1239.5,943.4 L1241.3,948.1 L1243.0,952.8 L1244.7,957.5 L1246.5,962.2 L1248.2,966.9 L1249.9,971.5 L1251.6,976.2 L1253.4,980.9 L1255.1,985.5 L1256.8,990.2 L1258.5,994.8 L1260.2,999.5 L1261.9,1004.1 L1263.6,1008.8 L1265.3,1013.4 L1267.0,1018.0 L1268.7,1022.7 L1270.4,1027.3 L1272.1,1031.9 L1273.7,1036.5 L1275.4,1041.1 L1277.1,1045.7 L1278.8,1050.3 L1280.4,1054.8 L1282.1,1059.4 L1283.8,1064.0 L1285.4,1068.5 L1287.1,1073.1 L1288.8,1077.7 L1290.5,1082.2 L1292.2,1086.7 L1293.9,1091.3 L1295.6,1095.8 L1297.4,1100.4 L1299.1,1104.9 L1300.9,1109.4 L1302.7,1114.0 L1304.5,1118.5 L1306.4,1123.0 L1308.2,1127.6 L1310.1,1132.1 L1312.1,1136.6 L1314.0,1141.1 L1316.0,1145.7 L1318.1,1150.2 L1320.2,1154.8 L1322.3,1159.3 L1324.4,1163.9 L1326.6,1168.4 L1328.9,1173.0 L1331.2,1177.5 L1333.5,1182.1 L1335.9,1186.6 L1338.4,1191.2 L1340.9,1195.7 L1343.5,1200.2 L1346.2,1204.7 L1348.9,1209.2 L1351.7,1213.6 L1354.6,1217.9 L1357.6,1222.2 L1360.6,1226.5 L1363.8,1230.7 L1367.0,1234.8 L1370.4,1238.8 L1373.8,1242.8 L1377.3,1246.7 L1381.0,1250.5 L1384.8,1254.1 L1388.6,1257.7 L1392.6,1261.0 L1396.6,1264.2 L1400.7,1267.2 L1404.9,1269.9 L1409.2,1272.4 L1413.5,1274.5 L1417.8,1276.4 L1422.2,1277.9 L1426.6,1279.1 L1431.0,1279.8 L1435.5,1280.2 L1439.9,1280.1 L1444.4,1279.5 L1448.8,1278.6 L1453.3,1277.3 L1457.7,1275.6 L1462.1,1273.6 L1466.4,1271.4 L1470.8,1269.0 L1475.0,1266.4 L1479.2,1263.7 L1483.3,1260.9 L1487.4,1258.1 L1491.4,1255.2 L1495.4,1252.2 L1499.2,1249.1 L1503.0,1246.0 L1506.8,1242.8 L1510.5,1239.6 L1514.1,1236.3 L1517.7,1232.9 L1521.3,1229.5 L1524.7,1226.0 L1528.2,1222.5 L1531.5,1218.9 L1534.9,1215.3 L1538.1,1211.6 L1541.4,1207.9 L1544.5,1204.1 L1547.7,1200.3 L1550.8,1196.4 L1553.8,1192.5 L1556.9,1188.5 L1559.8,1184.5 L1562.8,1180.5 L1565.7,1176.4 L1568.6,1172.3 L1571.4,1168.2 L1574.2,1164.0 L1577.0,1159.8 L1579.7,1155.6 L1582.4,1151.3 L1585.1,1147.0 L1587.8,1142.7 L1590.4,1138.4 L1593.1,1134.0 L1595.7,1129.6 L1598.2,1125.2 L1600.8,1120.8 L1603.3,1116.3 L1605.8,1111.9 L1608.4,1107.4 L1610.8,1103.0 L1613.3,1098.5 L1615.8,1094.0 L1618.3,1089.5 L1620.7,1084.9 L1623.2,1080.4 L1625.6,1075.9 L1628.0,1071.4 L1630.5,1066.9 L1632.9,1062.3 L1635.3,1057.8 L1637.7,1053.3 L1640.2,1048.8 L1642.6,1044.3 L1645.0,1039.8 L1647.5,1035.3 L1649.9,1030.8 L1652.4,1026.3 L1654.9,1021.9 L1657.3,1017.4 L1659.8,1013.0 L1662.3,1008.5 L1664.8,1004.1 L1667.2,999.7 L1669.7,995.3 L1672.2,990.9 L1674.7,986.5 L1677.2,982.1 L1679.7,977.7 L1682.2,973.3 L1684.8,969.0 L1687.3,964.6 L1689.8,960.3 L1692.3,955.9 L1694.9,951.6 L1697.4,947.2 L1699.9,942.9 L1702.5,938.6 L1705.0,934.3 L1707.6,930.0 L1710.1,925.7 L1712.7,921.4 L1715.2,917.1 L1717.8,912.8 L1720.3,908.5 L1722.9,904.3 L1725.5,900.0 L1728.0,895.7 L1730.6,891.5 L1733.2,887.2 L1735.7,882.9 L1738.3,878.7 L1740.9,874.4 L1743.5,870.2 L1746.0,866.0 L1748.6,861.7 L1751.2,857.5 L1753.8,853.3 L1756.4,849.1 L1758.9,844.8 L1761.5,840.6 L1764.1,836.4 L1766.7,832.2 L1769.3,828.0 L1771.8,823.8 L1774.4,819.6 L1777.0,815.4 L1779.6,811.2 L1782.2,807.0 L1784.7,802.8 L1787.3,798.6 L1789.9,794.4 L1792.5,790.2 L1795.0,786.0 L1797.6,781.8 L1800.2,777.6 L1802.7,773.4 L1805.3,769.2 L1807.9,765.0 L1810.4,760.8 L1813.0,756.6 L1815.6,752.4 L1818.1,748.2 L1820.7,744.0 L1823.2,739.8 L1825.8,735.7 L1828.3,731.5 L1830.9,727.3 L1833.4,723.1 L1835.9,718.9 L1838.5,714.7 L1841.0,710.5 L1843.5,706.3 L1846.0,702.0 L1848.6,697.8 L1851.1,693.6 L1853.6,689.4 L1856.1,685.2 L1858.6,681.0 L1861.1,676.8 L1863.6,672.5 L1866.1,668.3 L1868.6,664.1 L1871.0,659.8 L1873.5,655.6 L1876.0,651.4 L1878.5,647.1 L1880.9,642.9 L1883.4,638.6 L1885.8,634.4 L1888.3,630.1 L1890.7,625.8 L1893.1,621.6 L1895.5,617.3 L1898.0,613.0 L1900.4,608.7 L1902.8,604.4 L1905.2,600.1 L1907.6,595.8 L1910.0,591.5 L1912.3,587.2 L1914.7,582.9 L1917.1,578.5 L1919.4,574.2 L1921.8,569.9 L1924.1,565.5 L1926.4,561.2 L1928.8,556.8 L1931.1,552.4 L1933.4,548.1 L1935.7,543.7 L1938.0,539.3 L1940.3,534.9 L1942.6,530.5 L1944.8,526.1 L1947.1,521.7 L1949.3,517.2 L1951.6,512.8 L1953.8,508.3 L1956.0,503.9 L1958.2,499.4 L1960.5,494.9 L1962.6,490.5 L1964.8,486.0 L1967.0,481.5 L1969.2,477.0 L1971.3,472.4 L1973.5,467.9 L1975.6,463.4 L1977.7,458.8 L1979.8,454.3 L1981.9,449.7 L1984.0,445.1 L1986.1,440.5 L1988.2,435.9 L1990.3,431.3 L1992.3,426.7 L1994.4,422.1 L1996.4,417.5 L1998.5,412.8 L2000.5,408.2 L2002.6,403.6 L2004.6,398.9 L2006.6,394.3 L2008.7,389.6 L2010.7,385.0 L2012.7,380.3 L2014.8,375.7 L2016.8,371.0 L2018.9,366.4 L2020.9,361.7 L2023.0,357.1 L2025.0,352.5 L2027.1,347.8 L2029.2,343.2 L2031.3,338.6 L2033.4,333.9 L2035.5,329.3 L2037.6,324.7 L2039.7,320.1 L2041.8,315.5 L2044.0,310.9 L2046.1,306.3 L2048.3,301.8 L2050.5,297.2 L2052.7,292.7 L2054.9,288.1 L2057.2,283.6 L2059.4,279.1 L2061.7,274.6 L2064.0,270.1 L2066.3,265.7 L2068.7,261.2 L2071.1,256.8 L2073.4,252.4 L2075.9,248.0 L2078.3,243.6 L2080.8,239.2 L2083.2,234.9 L2085.8,230.6 L2088.3,226.3 L2090.9,222.0 L2093.5,217.8 L2096.1,213.5 L2098.8,209.3 L2101.5,205.1 L2104.2,201.0 L2107.0,196.8 L2109.8,192.7 L2112.6,188.6 L2115.4,184.6 L2118.3,180.5 L2121.3,176.5 L2124.3,172.6 L2127.3,168.6 L2130.3,164.7 L2133.4,160.8 L2136.6,157.0 L2139.8,153.2 L2143.0,149.4 L2146.2,145.6 L2149.6,141.9 L2152.9,138.2 L2156.3,134.6 L2159.8,131.0"/>
<path stroke="#ffff00" d="M287.1,387.4 L291.7,386.1 L296.3,384.7 L300.9,383.4 L305.6,382.1 L310.2,380.8 L314.9,379.5 L319.6,378.2 L324.4,377.0 L329.1,375.7 L333.8,374.4 L338.6,373.2 L343.4,371.9 L348.2,370.7 L353.0,369.4 L357.8,368.2 L362.6,366.9 L367.4,365.7 L372.3,364.4 L377.1,363.1 L382.0,361.9 L386.8,360.6 L391.7,359.3 L396.5,358.1 L401.4,356.8 L406.3,355.5 L411.2,354.2 L416.0,352.9 L420.9,351.5 L425.8,350.2 L430.7,348.9 L435.5,347.5 L440.4,346.1 L445.3,344.7 L450.1,343.3 L455.0,341.9 L459.8,340.5 L464.6,339.0 L469.5,337.5 L474.3,336.0 L479.1,334.5 L483.9,333.0 L488.7,331.4 L493.5,329.8 L498.3,328.2 L503.0,326.6 L507.8,324.9 L512.5,323.2 L517.2,321.5 L521.9,319.7 L526.6,317.9 L531.2,316.1 L535.9,314.3 L540.5,312.4 L545.1,310.5 L549.7,308.6 L554.2,306.6 L558.8,304.6 L563.3,302.5 L567.8,300.4 L572.2,298.3 L576.7,296.1 L581.1,293.9 L585.5,291.7 L589.8,289.4 L594.1,287.0 L598.4,284.7 L602.7,282.2 L606.9,279.8 L611.1,277.3 L615.3,274.7 L619.5,272.1 L623.6,269.5 L627.7,266.8 L631.7,264.1 L635.8,261.3 L639.8,258.5 L643.8,255.7 L647.8,252.8 L651.7,249.9 L655.7,246.9 L659.6,243.9 L663.5,240.9 L667.3,237.9 L671.2,234.8 L675.0,231.7 L678.9,228.5 L682.7,225.4 L686.5,222.2 L690.3,218.9 L694.1,215.7 L697.8,212.4 L701.6,209.1 L705.3,205.7 L709.0,202.4 L712.8,199.0 L716.5,195.6 L720.2,192.2 L723.9,188.7 L727.6,185.2 L731.3,181.7 L735.0,178.2 L738.7,174.7 L742.4,171.2 L746.1,167.6 L749.8,164.0 L753.5,160.5 L757.2,156.9 L761.0,153.3 L764.7,149.7 L768.4,146.1 L772.2,142.6 L776.0,139.1 L779.8,135.6 L783.7,132.2 L787.6,129.0 L791.5,125.8 L795.5,122.7 L799.6,119.7 L803.7,116.8 L807.9,114.1 L812.1,111.5 L816.5,109.1 L820.9,106.9 L825.4,104.8 L830.0,103.0 L834.6,101.3 L839.4,99.9 L844.1,98.7 L849.0,97.7 L853.8,97.0 L858.6,96.6 L863.4,96.4 L868.2,96.6 L872.9,97.0 L877.5,97.7 L882.1,98.7 L886.7,99.9 L891.2,101.4 L895.6,103.1 L900.0,105.0 L904.4,107.1 L908.7,109.4 L912.9,111.8 L917.1,114.3 L921.2,117.0 L925.3,119.8 L929.4,122.6 L933.4,125.6 L937.3,128.6 L941.2,131.7 L945.1,134.9 L948.9,138.1 L952.7,141.4 L956.4,144.8 L960.1,148.2 L963.7,151.7 L967.3,155.3 L970.9,158.9 L974.4,162.5 L977.9,166.2 L981.3,169.9 L984.7,173.7 L988.1,177.5 L991.4,181.4 L994.7,185.2 L997.9,189.1 L1001.1,193.1 L1004.3,197.0 L1007.4,201.0 L1010.5,205.0 L1013.5,209.0 L1016.6,213.0 L1019.6,217.1 L1022.5,221.2 L1025.4,225.3 L1028.3,229.4 L1031.2,233.5 L1034.0,237.7 L1036.8,241.8 L1039.6,246.0 L1042.3,250.2 L1045.0,254.5 L1047.7,258.7 L1050.3,263.0 L1052.9,267.2 L1055.5,271.5 L1058.1,275.8 L1060.6,280.1 L1063.1,284.4 L1065.6,288.8 L1068.1,293.1 L1070.5,297.5 L1072.9,301.9 L1075.3,306.2 L1077.7,310.6 L1080.0,315.0 L1082.4,319.4 L1084.7,323.9 L1086.9,328.3 L1089.2,332.7 L1091.5,337.2 L1093.7,341.6 L1095.9,346.1 L1098.1,350.5 L1100.2,355.0 L1102.4,359.5 L1104.5,364.0 L1106.6,368.5 L1108.7,373.0 L1110.8,377.5 L1112.8,382.0 L1114.9,386.5 L1116.9,391.1 L1118.9,395.6 L1120.9,400.2 L1122.9,404.7 L1124.8,409.3 L1126.8,413.8 L1128.7,418.4 L1130.6,423.0 L1132.5,427.6 L1134.4,432.2 L1136.3,436.8 L1138.1,441.4 L1140.0,446.0 L1141.8,450.6 L1143.6,455.2 L1145.4,459.9 L1147.2,464.5 L1149.0,469.1 L1150.8,473.8 L1152.6,478.4 L1154.3,483.1 L1156.1,487.7 L1157.8,492.4 L1159.5,497.0 L1161.3,501.7 L1163.0,506.4 L1164.7,511.1 L1166.3,515.8 L1168.0,520.4 L1169.7,525.1 L1171.4,529.8 L1173.0,534.5 L1174.7,539.2 L1176.3,543.9 L1178.0,548.7 L1179.6,553.4 L1181.2,558.1 L1182.9,562.8 L1184.5,567.5 L1186.1,572.3 L1187.7,577.0 L1189.3,581.7 L1190.9,586.5 L1192.5,591.2 L1194.1,595.9 L1195.7,600.7 L1197.3,605.4 L1198.9,610.2 L1200.5,614.9 L1202.0,619.7 L1203.6,624.4 L1205.2,629.2 L1206.8,633.9 L1208.4,638.7 L1209.9,643.5 L1211.5,648.2 L1213.1,653.0 L1214.7,657.7 L1216.3,662.5 L1217.8,667.3 L1219.4,672.0 L1221.0,676.8 L1222.6,681.6 L1224.2,686.3 L1225.8,691.1 L1227.4,695.9 L1229.0,700.7 L1230.6,705.4 L1232.2,710.2 L1233.8,715.0 L1235.4,719.7 L1237.0,724.5 L1238.7,729.3 L1240.3,734.0 L1241.9,738.8 L1243.6,743.6 L1245.2,748.3 L1246.8,753.1 L1248.5,757.9 L1250.1,762.6 L1251.8,767.4 L1253.5,772.2 L1255.1,776.9 L1256.8,781.7 L1258.4,786.5 L1260.1,791.2 L1261.8,796.0 L1263.5,800.8 L1265.1,805.5 L1266.8,810.3 L1268.5,815.0 L1270.2,819.8 L1271.9,824.5 L1273.5,829.3 L1275.2,834.0 L1276.9,838.8 L1278.6,843.6 L1280.3,848.3 L1282.0,853.0 L1283.7,857.8 L1285.4,862.5 L1287.1,867.3 L1288.8,872.0 L1290.5,876.8 L1292.2,881.5 L1293.9,886.2 L1295.6,891.0 L1297.3,895.7 L1299.0,900.4 L1300.7,905.2 L1302.4,909.9 L1304.2,914.6 L1305.9,919.3 L1307.6,924.0 L1309.3,928.8 L1311.0,933.5 L1312.7,938.2 L1314.4,942.9 L1316.1,947.6 L1317.8,952.3 L1319.5,957.0 L1321.2,961.7 L1322.9,966.4 L1324.6,971.1 L1326.3,975.8 L1328.0,980.5 L1329.7,985.2 L1331.4,989.8 L1333.1,994.5 L1334.8,999.2 L1336.5,1003.9 L1338.2,1008.5 L1339.9,1013.2 L1341.6,1017.9 L1343.3,1022.5 L1344.9,1027.2 L1346.6,1031.8 L1348.3,1036.5 L1350.0,1041.1 L1351.7,1045.8 L1353.3,1050.4 L1355.0,1055.1 L1356.7,1059.7 L1358.3,1064.3 L1360.0,1068.9 L1361.6,1073.6 L1363.3,1078.2 L1364.9,1082.8 L1366.6,1087.4 L1368.2,1092.0 L1369.9,1096.6 L1371.5,1101.2 L1373.2,1105.8 L1374.9,1110.4 L1376.6,1115.0 L1378.3,1119.6 L1380.0,1124.1 L1381.7,1128.7 L1383.4,1133.3 L1385.2,1137.8 L1387.0,1142.4 L1388.8,1147.0 L1390.6,1151.5 L1392.5,1156.1 L1394.4,1160.6 L1396.3,1165.1 L1398.3,1169.7 L1400.3,1174.2 L1402.3,1178.7 L1404.4,1183.3 L1406.5,1187.8 L1408.7,1192.3 L1410.9,1196.8 L1413.1,1201.3 L1415.5,1205.8 L1417.8,1210.3 L1420.2,1214.8 L1422.7,1219.3 L1425.3,1223.8 L1427.9,1228.3 L1430.5,1232.8 L1433.2,1237.2 L1436.0,1241.7 L1438.9,1246.2 L1441.8,1250.6 L1444.8,1255.1 L1447.9,1259.5 L1451.0,1263.8 L1454.3,1268.1 L1457.6,1272.3 L1461.0,1276.3 L1464.4,1280.3 L1468.0,1284.0 L1471.6,1287.6 L1475.3,1291.0 L1479.1,1294.1 L1483.0,1297.1 L1486.9,1299.7 L1491.0,1302.1 L1495.1,1304.1 L1499.3,1305.9 L1503.6,1307.3 L1508.0,1308.3 L1512.5,1309.0 L1517.0,1309.3 L1521.6,1309.4 L1526.2,1309.1 L1530.7,1308.5 L1535.3,1307.8 L1539.8,1306.7 L1544.2,1305.5 L1548.6,1304.1 L1552.8,1302.4 L1557.0,1300.6 L1561.2,1298.6 L1565.2,1296.4 L1569.2,1294.1 L1573.2,1291.6 L1577.0,1289.0 L1580.8,1286.2 L1584.6,1283.3 L1588.3,1280.2 L1591.9,1277.0 L1595.5,1273.7 L1599.0,1270.3 L1602.5,1266.8 L1605.9,1263.2 L1609.3,1259.5 L1612.6,1255.7 L1616.0,1251.8 L1619.2,1247.9 L1622.5,1243.9 L1625.7,1239.8 L1628.8,1235.7 L1632.0,1231.5 L1635.1,1227.3 L1638.2,1223.1 L1641.2,1218.9 L1644.3,1214.6 L1647.3,1210.3 L1650.3,1206.0 L1653.3,1201.7 L1656.2,1197.5 L1659.2,1193.2 L1662.1,1188.9 L1665.1,1184.6 L1668.0,1180.3 L1670.9,1176.0 L1673.7,1171.7 L1676.6,1167.3 L1679.4,1163.0 L1682.3,1158.7 L1685.1,1154.4 L1687.9,1150.1 L1690.7,1145.8 L1693.4,1141.4 L1696.2,1137.1 L1698.9,1132.8 L1701.7,1128.4 L1704.4,1124.1 L1707.1,1119.8 L1709.8,1115.4 L1712.4,1111.1 L1715.1,1106.7 L1717.8,1102.4 L1720.4,1098.0 L1723.0,1093.7 L1725.6,1089.3 L1728.2,1084.9 L1730.8,1080.6 L1733.4,1076.2 L1735.9,1071.9 L1738.5,1067.5 L1741.0,1063.1 L1743.5,1058.7 L1746.0,1054.4 L1748.5,1050.0 L1751.0,1045.6 L1753.5,1041.2 L1755.9,1036.8 L1758.4,1032.4 L1760.8,1028.1 L1763.3,1023.7 L1765.7,1019.3 L1768.1,1014.9 L1770.5,1010.5 L1772.9,1006.1 L1775.3,1001.7 L1777.6,997.3 L1780.0,992.9 L1782.3,988.5 L1784.7,984.0 L1787.0,979.6 L1789.3,975.2 L1791.6,970.8 L1793.9,966.4 L1796.2,962.0 L1798.5,957.5 L1800.8,953.1 L1803.0,948.7 L1805.3,944.3 L1807.5,939.8 L1809.8,935.4 L1812.0,931.0 L1814.2,926.5 L1816.5,922.1 L1818.7,917.7 L1820.9,913.2 L1823.1,908.8 L1825.3,904.3 L1827.4,899.9 L1829.6,895.5 L1831.8,891.0 L1833.9,886.6 L1836.1,882.1 L1838.2,877.7 L1840.4,873.2 L1842.5,868.8 L1844.7,864.3 L1846.8,859.8 L1848.9,855.4 L1851.0,850.9 L1853.1,846.5 L1855.2,842.0 L1857.3,837.5 L1859.4,833.1 L1861.5,828.6 L1863.6,824.1 L1865.7,819.7 L1867.7,815.2 L1869.8,810.7 L1871.9,806.3 L1873.9,801.8 L1876.0,797.3 L1878.0,792.8 L1880.1,788.4 L1882.1,783.9 L1884.2,779.4 L1886.2,774.9 L1888.3,770.5 L1890.3,766.0 L1892.3,761.5 L1894.4,757.0 L1896.4,752.5 L1898.4,748.0 L1900.4,743.6 L1902.5,739.1 L1904.5,734.6 L1906.5,730.1 L1908.5,725.6 L1910.5,721.1 L1912.5,716.6 L1914.5,712.1 L1916.5,707.7 L1918.6,703.2 L1920.6,698.7 L1922.6,694.2 L1924.6,689.7 L1926.6,685.2 L1928.6,680.7 L1930.6,676.2 L1932.6,671.7 L1934.6,667.2 L1936.6,662.7 L1938.6,658.2 L1940.6,653.7 L1942.6,649.2 L1944.6,644.7 L1946.6,640.2 L1948.7,635.7 L1950.7,631.2 L1952.7,626.7 L1954.7,622.2 L1956.7,617.7 L1958.7,613.2 L1960.8,608.7 L1962.8,604.2 L1964.8,599.7 L1966.8,595.2 L1968.9,590.7 L1970.9,586.2 L1972.9,581.7 L1975.0,577.2 L1977.0,572.7 L1979.0,568.2 L1981.1,563.7 L1983.1,559.2 L1985.2,554.7 L1987.2,550.2 L1989.3,545.7 L1991.4,541.2 L1993.4,536.7 L1995.5,532.2 L1997.6,527.7 L1999.7,523.2 L2001.8,518.7 L2003.9,514.2 L2005.9,509.7 L2008.0,505.2 L2010.2,500.7 L2012.3,496.2 L2014.4,491.7 L2016.5,487.2 L2018.6,482.7 L2020.8,478.2 L2022.9,473.7 L2025.1,469.2 L2027.2,464.8 L2029.4,460.3 L2031.5,455.8 L2033.7,451.3 L2035.9,446.8 L2038.1,442.3 L2040.3,437.8 L2042.5,433.3 L2044.7,428.8 L2046.9,424.3 L2049.1,419.8 L2051.4,415.3 L2053.6,410.9 L2055.8,406.4 L2058.1,401.9 L2060.4,397.4 L2062.6,392.9 L2064.9,388.4 L2067.2,383.9 L2069.5,379.5 L2071.8,375.0 L2074.1,370.5 L2076.5,366.0 L2078.8,361.5 L2081.1,357.1 L2083.5,352.6 L2085.9,348.1 L2088.2,343.6 L2090.6,339.2 L2093.0,334.7 L2095.4,330.2 L2097.8,325.7 L2100.3,321.3 L2102.7,316.8 L2105.2,312.3 L2107.6,307.9 L2110.1,303.4 L2112.6,299.0 L2115.1,294.5 L2117.6,290.0 L2120.1,285.6 L2122.6,281.1 L2125.2,276.7 L2127.7,272.2 L2130.3,267.7 L2132.9,263.3 L2135.5,258.8 L2138.1,254.4 L2140.7,249.9 L2143.3,245.5 L2146.0,241.1 L2148.6,236.6 L2151.3,232.2 L2154.0,227.7 L2156.7,223.3 L2159.4,218.9"/>
<path stroke="#ff0080" d="M285.1,410.9 L290.2,409.3 L295.3,408.0 L300.4,406.9 L305.5,406.1 L310.6,405.5 L315.6,405.2 L320.7,405.0 L325.7,405.1 L330.7,405.3 L335.7,405.8 L340.7,406.4 L345.7,407.1 L350.7,408.0 L355.7,409.0 L360.6,410.1 L365.6,411.2 L370.5,412.5 L375.4,413.9 L380.3,415.3 L385.2,416.7 L390.1,418.2 L395.0,419.6 L399.9,421.1 L404.7,422.6 L409.6,424.0 L414.4,425.4 L419.3,426.8 L424.1,428.0 L428.9,429.3 L433.7,430.4 L438.5,431.4 L443.3,432.2 L448.1,433.0 L452.9,433.6 L457.7,434.0 L462.4,434.3 L467.2,434.5 L472.0,434.5 L476.7,434.4 L481.5,434.2 L486.2,433.8 L490.9,433.3 L495.6,432.7 L500.4,431.9 L505.1,431.1 L509.8,430.1 L514.5,429.1 L519.2,427.9 L523.9,426.7 L528.6,425.4 L533.3,423.9 L538.0,422.4 L542.6,420.9 L547.3,419.2 L552.0,417.5 L556.7,415.7 L561.3,413.8 L566.0,411.9 L570.7,410.0 L575.3,408.0 L580.0,405.9 L584.7,403.8 L589.3,401.7 L594.0,399.5 L598.6,397.3 L603.3,395.1 L607.9,392.9 L612.6,390.6 L617.2,388.3 L621.9,386.1 L626.5,383.8 L631.2,381.5 L635.8,379.2 L640.5,377.0 L645.1,374.7 L649.8,372.5 L654.4,370.3 L659.1,368.1 L663.7,365.9 L668.4,363.8 L673.0,361.7 L677.7,359.6 L682.3,357.5 L687.0,355.4 L691.6,353.3 L696.2,351.3 L700.8,349.2 L705.4,347.2 L710.0,345.1 L714.6,343.0 L719.2,341.0 L723.7,338.9 L728.2,336.8 L732.7,334.7 L737.2,332.6 L741.7,330.5 L746.1,328.4 L750.6,326.2 L754.9,324.0 L759.3,321.8 L763.6,319.5 L767.9,317.2 L772.2,314.9 L776.5,312.5 L780.7,310.1 L784.8,307.7 L789.0,305.1 L793.1,302.6 L797.2,300.0 L801.2,297.3 L805.2,294.6 L809.1,291.9 L813.0,289.0 L816.8,286.1 L820.6,283.2 L824.4,280.1 L828.1,277.0 L831.8,273.8 L835.4,270.6 L838.9,267.3 L842.5,263.9 L846.0,260.5 L849.5,257.0 L852.9,253.4 L856.4,249.9 L859.8,246.2 L863.2,242.5 L866.5,238.8 L869.9,235.1 L873.3,231.3 L876.6,227.4 L880.0,223.6 L883.3,219.7 L886.7,215.8 L890.1,211.8 L893.4,207.9 L896.8,203.9 L900.3,199.9 L903.7,195.9 L907.2,191.9 L910.7,187.9 L914.2,183.9 L917.7,180.0 L921.3,176.1 L925.0,172.3 L928.7,168.5 L932.4,164.8 L936.2,161.2 L940.0,157.8 L943.9,154.4 L947.8,151.2 L951.8,148.2 L955.9,145.3 L960.1,142.6 L964.3,140.1 L968.6,137.7 L972.9,135.6 L977.2,133.7 L981.7,132.0 L986.1,130.6 L990.6,129.3 L995.1,128.4 L999.6,127.7 L1004.2,127.2 L1008.8,127.1 L1013.3,127.2 L1017.9,127.6 L1022.5,128.4 L1027.1,129.3 L1031.6,130.6 L1036.2,132.1 L1040.7,133.8 L1045.2,135.7 L1049.6,137.8 L1054.0,140.1 L1058.4,142.6 L1062.8,145.2 L1067.0,147.9 L1071.3,150.7 L1075.4,153.7 L1079.5,156.7 L1083.5,159.8 L1087.5,162.9 L1091.4,166.1 L1095.2,169.4 L1098.9,172.8 L1102.6,176.2 L1106.3,179.6 L1109.8,183.2 L1113.3,186.7 L1116.8,190.3 L1120.2,194.0 L1123.6,197.7 L1126.9,201.5 L1130.2,205.3 L1133.4,209.1 L1136.6,213.0 L1139.7,216.9 L1142.8,220.9 L1145.9,224.8 L1148.9,228.9 L1151.9,232.9 L1154.9,237.0 L1157.8,241.1 L1160.7,245.2 L1163.6,249.3 L1166.4,253.4 L1169.3,257.6 L1172.1,261.8 L1174.9,266.0 L1177.7,270.2 L1180.4,274.4 L1183.2,278.6 L1185.9,282.8 L1188.6,287.0 L1191.3,291.3 L1194.0,295.5 L1196.7,299.8 L1199.4,304.0 L1202.0,308.3 L1204.7,312.6 L1207.3,316.9 L1209.9,321.2 L1212.5,325.5 L1215.1,329.8 L1217.6,334.1 L1220.2,338.4 L1222.7,342.7 L1225.2,347.0 L1227.7,351.4 L1230.2,355.7 L1232.7,360.1 L1235.2,364.4 L1237.6,368.8 L1240.1,373.2 L1242.5,377.6 L1244.9,381.9 L1247.3,386.3 L1249.7,390.7 L1252.1,395.1 L1254.5,399.6 L1256.8,404.0 L1259.1,408.4 L1261.5,412.8 L1263.8,417.3 L1266.1,421.7 L1268.4,426.1 L1270.6,430.6 L1272.9,435.0 L1275.1,439.5 L1277.4,444.0 L1279.6,448.4 L1281.8,452.9 L1284.0,457.4 L1286.2,461.9 L1288.4,466.4 L1290.5,470.9 L1292.7,475.4 L1294.8,479.9 L1297.0,484.4 L1299.1,488.9 L1301.2,493.5 L1303.3,498.0 L1305.4,502.5 L1307.4,507.1 L1309.5,511.6 L1311.5,516.1 L1313.6,520.7 L1315.6,525.2 L1317.6,529.8 L1319.6,534.4 L1321.6,538.9 L1323.6,543.5 L1325.6,548.1 L1327.5,552.7 L1329.5,557.2 L1331.4,561.8 L1333.3,566.4 L1335.3,571.0 L1337.2,575.6 L1339.1,580.2 L1340.9,584.8 L1342.8,589.4 L1344.7,594.0 L1346.5,598.6 L1348.4,603.3 L1350.2,607.9 L1352.1,612.5 L1353.9,617.1 L1355.7,621.8 L1357.5,626.4 L1359.3,631.0 L1361.0,635.7 L1362.8,640.3 L1364.6,644.9 L1366.3,649.6 L1368.0,654.2 L1369.8,658.9 L1371.5,663.5 L1373.2,668.2 L1374.9,672.8 L1376.6,677.5 L1378.3,682.2 L1380.0,686.8 L1381.6,691.5 L1383.3,696.2 L1384.9,700.8 L1386.6,705.5 L1388.2,710.2 L1389.9,714.8 L1391.5,719.5 L1393.1,724.2 L1394.7,728.9 L1396.3,733.5 L1397.9,738.2 L1399.5,742.9 L1401.1,747.6 L1402.7,752.3 L1404.3,757.0 L1405.9,761.7 L1407.4,766.3 L1409.0,771.0 L1410.6,775.7 L1412.1,780.4 L1413.7,785.1 L1415.3,789.8 L1416.8,794.5 L1418.4,799.2 L1419.9,803.9 L1421.5,808.6 L1423.0,813.3 L1424.6,818.0 L1426.1,822.7 L1427.7,827.4 L1429.2,832.1 L1430.7,836.8 L1432.3,841.5 L1433.8,846.2 L1435.4,850.9 L1436.9,855.6 L1438.5,860.4 L1440.0,865.1 L1441.6,869.8 L1443.1,874.5 L1444.7,879.2 L1446.2,883.9 L1447.8,888.6 L1449.3,893.3 L1450.9,898.0 L1452.5,902.7 L1454.0,907.4 L1455.6,912.1 L1457.2,916.8 L1458.8,921.6 L1460.3,926.3 L1461.9,931.0 L1463.5,935.7 L1465.1,940.4 L1466.7,945.1 L1468.3,949.8 L1470.0,954.5 L1471.6,959.2 L1473.2,963.9 L1474.8,968.6 L1476.5,973.3 L1478.1,978.0 L1479.8,982.7 L1481.4,987.4 L1483.1,992.1 L1484.8,996.8 L1486.5,1001.5 L1488.2,1006.2 L1489.9,1010.9 L1491.6,1015.6 L1493.3,1020.3 L1495.0,1025.0 L1496.8,1029.7 L1498.5,1034.4 L1500.3,1039.1 L1502.1,1043.8 L1503.9,1048.4 L1505.7,1053.1 L1507.5,1057.8 L1509.3,1062.5 L1511.1,1067.2 L1512.9,1071.9 L1514.8,1076.5 L1516.7,1081.2 L1518.5,1085.9 L1520.4,1090.6 L1522.3,1095.2 L1524.3,1099.9 L1526.2,1104.6 L1528.1,1109.2 L1530.1,1113.9 L1532.1,1118.6 L1534.1,1123.2 L1536.1,1127.9 L1538.1,1132.5 L1540.1,1137.2 L1542.2,1141.8 L1544.2,1146.5 L1546.3,1151.1 L1548.4,1155.8 L1550.5,1160.4 L1552.7,1165.0 L1554.8,1169.7 L1557.0,1174.3 L1559.2,1178.9 L1561.4,1183.6 L1563.6,1188.2 L1565.8,1192.8 L1568.1,1197.4 L1570.3,1202.1 L1572.6,1206.7 L1575.0,1211.3 L1577.3,1215.9 L1579.7,1220.5 L1582.1,1225.0 L1584.5,1229.6 L1587.0,1234.1 L1589.6,1238.5 L1592.2,1242.9 L1594.9,1247.2 L1597.7,1251.5 L1600.6,1255.6 L1603.6,1259.7 L1606.6,1263.7 L1609.8,1267.6 L1613.1,1271.4 L1616.5,1275.0 L1620.1,1278.6 L1623.8,1282.0 L1627.6,1285.2 L1631.6,1288.3 L1635.7,1291.2 L1639.9,1294.0 L1644.3,1296.5 L1648.7,1298.8 L1653.2,1300.8 L1657.7,1302.6 L1662.2,1304.1 L1666.8,1305.3 L1671.3,1306.1 L1675.8,1306.6 L1680.2,1306.7 L1684.6,1306.5 L1688.9,1305.9 L1693.1,1304.9 L1697.3,1303.7 L1701.4,1302.1 L1705.4,1300.2 L1709.4,1298.1 L1713.3,1295.7 L1717.2,1293.1 L1721.0,1290.3 L1724.7,1287.3 L1728.4,1284.2 L1732.0,1280.9 L1735.6,1277.5 L1739.1,1273.9 L1742.6,1270.3 L1746.1,1266.7 L1749.5,1262.9 L1752.9,1259.1 L1756.3,1255.2 L1759.6,1251.3 L1762.8,1247.3 L1766.1,1243.3 L1769.3,1239.3 L1772.5,1235.2 L1775.7,1231.1 L1778.9,1227.0 L1782.0,1222.9 L1785.1,1218.8 L1788.3,1214.6 L1791.4,1210.5 L1794.4,1206.4 L1797.5,1202.2 L1800.6,1198.1 L1803.6,1193.9 L1806.6,1189.8 L1809.6,1185.6 L1812.6,1181.5 L1815.6,1177.3 L1818.6,1173.1 L1821.5,1169.0 L1824.4,1164.8 L1827.4,1160.6 L1830.3,1156.4 L1833.2,1152.2 L1836.0,1148.0 L1838.9,1143.9 L1841.7,1139.7 L1844.6,1135.5 L1847.4,1131.3 L1850.2,1127.0 L1853.0,1122.8 L1855.8,1118.6 L1858.6,1114.4 L1861.3,1110.2 L1864.1,1105.9 L1866.8,1101.7 L1869.5,1097.5 L1872.2,1093.2 L1874.9,1089.0 L1877.6,1084.7 L1880.3,1080.5 L1882.9,1076.2 L1885.6,1072.0 L1888.2,1067.7 L1890.8,1063.4 L1893.4,1059.2 L1896.0,1054.9 L1898.6,1050.6 L1901.2,1046.3 L1903.7,1042.1 L1906.3,1037.8 L1908.8,1033.5 L1911.3,1029.2 L1913.8,1024.9 L1916.3,1020.6 L1918.8,1016.3 L1921.3,1011.9 L1923.8,1007.6 L1926.2,1003.3 L1928.7,999.0 L1931.1,994.7 L1933.5,990.3 L1935.9,986.0 L1938.4,981.6 L1940.7,977.3 L1943.1,973.0 L1945.5,968.6 L1947.9,964.2 L1950.2,959.9 L1952.6,955.5 L1954.9,951.2 L1957.2,946.8 L1959.5,942.4 L1961.8,938.0 L1964.1,933.6 L1966.4,929.3 L1968.7,924.9 L1971.0,920.5 L1973.2,916.1 L1975.5,911.7 L1977.7,907.3 L1980.0,902.9 L1982.2,898.4 L1984.4,894.0 L1986.6,889.6 L1988.8,885.2 L1991.0,880.7 L1993.2,876.3 L1995.3,871.9 L1997.5,867.4 L1999.7,863.0 L2001.8,858.5 L2003.9,854.1 L2006.1,849.6 L2008.2,845.2 L2010.3,840.7 L2012.4,836.2 L2014.5,831.8 L2016.6,827.3 L2018.7,822.8 L2020.8,818.3 L2022.9,813.8 L2024.9,809.3 L2027.0,804.8 L2029.1,800.3 L2031.1,795.8 L2033.1,791.3 L2035.2,786.8 L2037.2,782.3 L2039.2,777.8 L2041.2,773.2 L2043.3,768.7 L2045.3,764.2 L2047.3,759.7 L2049.3,755.1 L2051.2,750.6 L2053.2,746.0 L2055.2,741.5 L2057.2,736.9 L2059.1,732.4 L2061.1,727.8 L2063.0,723.2 L2065.0,718.7 L2066.9,714.1 L2068.9,709.5 L2070.8,704.9 L2072.7,700.3 L2074.7,695.7 L2076.6,691.1 L2078.5,686.5 L2080.4,681.9 L2082.3,677.3 L2084.2,672.7 L2086.1,668.1 L2088.0,663.5 L2089.9,658.9 L2091.8,654.2 L2093.7,649.6 L2095.5,645.0 L2097.4,640.3 L2099.3,635.7 L2101.2,631.0 L2103.0,626.4 L2104.9,621.7 L2106.7,617.1 L2108.6,612.4 L2110.4,607.8 L2112.3,603.1 L2114.1,598.4 L2116.0,593.7 L2117.8,589.1 L2119.7,584.4 L2121.5,579.7 L2123.3,575.0 L2125.2,570.3 L2127.0,565.6 L2128.8,560.9 L2130.7,556.2 L2132.5,551.5 L2134.3,546.7 L2136.1,542.0 L2137.9,537.3 L2139.8,532.6 L2141.6,527.8 L2143.4,523.1 L2145.2,518.3 L2147.0,513.6 L2148.8,508.8 L2150.6,504.1 L2152.4,499.3 L2154.3,494.6 L2156.1,489.8 L2157.9,485.0 L2159.7,480.3"/>
</g>
<g stroke="#000" stroke-width="5.5">
<line x1="552.5" y1="1445.5" x2="552.5" y2="1415.5"/>
<line x1="552.5" y1="72.5" x2="552.5" y2="102.5"/>
<line x1="819.0" y1="1445.5" x2="819.0" y2="1415.5"/>
<line x1="819.0" y1="72.5" x2="819.0" y2="102.5"/>
<line x1="1085.5" y1="1445.5" x2="1085.5" y2="1415.5"/>
<line x1="1085.5" y1="72.5" x2="1085.5" y2="102.5"/>
<line x1="1352.0" y1="1445.5" x2="1352.0" y2="1415.5"/>
<line x1="1352.0" y1="72.5" x2="1352.0" y2="102.5"/>
<line x1="1618.5" y1="1445.5" x2="1618.5" y2="1415.5"/>
<line x1="1618.5" y1="72.5" x2="1618.5" y2="102.5"/>
<line x1="1885.0" y1="1445.5" x2="1885.0" y2="1415.5"/>
<line x1="1885.0" y1="72.5" x2="1885.0" y2="102.5"/>
<line x1="286.0" y1="268.6" x2="316.0" y2="268.6"/>
<line x1="2151.5" y1="268.6" x2="2121.5" y2="268.6"/>
<line x1="286.0" y1="464.8" x2="316.0" y2="464.8"/>
<line x1="2151.5" y1="464.8" x2="2121.5" y2="464.8"/>
<line x1="286.0" y1="660.9" x2="316.0" y2="660.9"/>
<line x1="2151.5" y1="660.9" x2="2121.5" y2="660.9"/>
<line x1="286.0" y1="857.1" x2="316.0" y2="857.1"/>
<line x1="2151.5" y1="857.1" x2="2121.5" y2="857.1"/>
<line x1="286.0" y1="1053.2" x2="316.0" y2="1053.2"/>
<line x1="2151.5" y1="1053.2" x2="2121.5" y2="1053.2"/>
<line x1="286.0" y1="1249.4" x2="316.0" y2="1249.4"/>
<line x1="2151.5" y1="1249.4" x2="2121.5" y2="1249.4"/>
</g>
<rect x="286.0" y="72.5" width="1865.5" height="1373.0" fill="none" stroke="#000" stroke-width="5.5"/>
<g font-family="Liberation Sans, Arial, sans-serif" font-size="54.5" fill="#000">
<text transform="translate(286.0,1518.0) scale(1,1.05)" text-anchor="middle">820</text>
<text transform="translate(552.5,1518.0) scale(1,1.05)" text-anchor="middle">830</text>
<text transform="translate(819.0,1518.0) scale(1,1.05)" text-anchor="middle">840</text>
<text transform="translate(1085.5,1518.0) scale(1,1.05)" text-anchor="middle">850</text>
<text transform="translate(1352.0,1518.0) scale(1,1.05)" text-anchor="middle">860</text>
<text transform="translate(1618.5,1518.0) scale(1,1.05)" text-anchor="middle">870</text>
<text transform="translate(1885.0,1518.0) scale(1,1.05)" text-anchor="middle">880</text>
<text transform="translate(2151.5,1518.0) scale(1,1.05)" text-anchor="middle">890</text>
<text transform="translate(255,86.9) scale(1,1.05)" text-anchor="end">1.00</text>
<text transform="translate(255,283.0) scale(1,1.05)" text-anchor="end">0.95</text>
<text transform="translate(255,479.2) scale(1,1.05)" text-anchor="end">0.90</text>
<text transform="translate(255,675.3) scale(1,1.05)" text-anchor="end">0.85</text>
<text transform="translate(255,871.5) scale(1,1.05)" text-anchor="end">0.80</text>
<text transform="translate(255,1067.6) scale(1,1.05)" text-anchor="end">0.75</text>
<text transform="translate(255,1263.8) scale(1,1.05)" text-anchor="end">0.70</text>
<text transform="translate(255,1459.9) scale(1,1.05)" text-anchor="end">0.65</text>
</g>
<text x="1221" y="1605.5" text-anchor="middle" font-family="Liberation Sans, Arial, sans-serif" font-size="69.3" fill="#000">Wavelength (nm)</text>
<text transform="translate(109.3,762.5) rotate(-90)" x="0" y="0" text-anchor="middle" font-family="Liberation Sans, Arial, sans-serif" font-size="69.5" fill="#000">Reflectance (-)</text>
<rect x="336.5" y="891.5" width="419" height="503" fill="#fff" stroke="#686868" stroke-width="3"/>
<line x1="359" y1="937.2" x2="516.5" y2="937.2" stroke="#000000" stroke-width="7"/>
<text transform="translate(534.4,960.8) scale(1,1.04)" font-family="Liberation Sans, Arial, sans-serif" font-size="68.7" fill="#000">1.3330</text>
<line x1="359" y1="1020.7" x2="516.5" y2="1020.7" stroke="#ff0000" stroke-width="7"/>
<text transform="translate(534.4,1044.2) scale(1,1.04)" font-family="Liberation Sans, Arial, sans-serif" font-size="68.7" fill="#000">1.3470</text>
<line x1="359" y1="1104.1" x2="516.5" y2="1104.1" stroke="#00ff00" stroke-width="7"/>
<text transform="translate(534.4,1127.7) scale(1,1.04)" font-family="Liberation Sans, Arial, sans-serif" font-size="68.7" fill="#000">1.3552</text>
<line x1="359" y1="1187.6" x2="516.5" y2="1187.6" stroke="#0000ff" stroke-width="7"/>
<text transform="translate(534.4,1211.2) scale(1,1.04)" font-family="Liberation Sans, Arial, sans-serif" font-size="68.7" fill="#000">1.3605</text>
<line x1="359" y1="1271.0" x2="516.5" y2="1271.0" stroke="#ffff00" stroke-width="7"/>
<text transform="translate(534.4,1294.6) scale(1,1.04)" font-family="Liberation Sans, Arial, sans-serif" font-size="68.7" fill="#000">1.3658</text>
<line x1="359" y1="1354.5" x2="516.5" y2="1354.5" stroke="#ff0080" stroke-width="7"/>
<text transform="translate(534.4,1378.0) scale(1,1.04)" font-family="Liberation Sans, Arial, sans-serif" font-size="68.7" fill="#000">1.3753</text>
</svg>
</body></html>
